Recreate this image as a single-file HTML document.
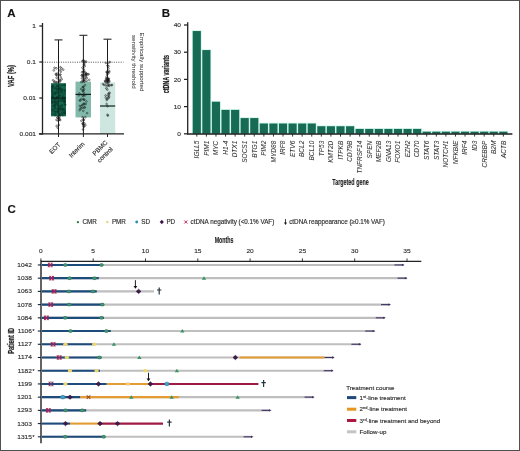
<!DOCTYPE html>
<html><head><meta charset="utf-8"><style>
html,body{margin:0;padding:0;background:#fff;}
body{width:520px;height:451px;overflow:hidden;position:relative;}
.frame{position:absolute;left:0;top:0;width:518px;height:449px;border:1px solid #505050;}
svg{display:block;font-family:"Liberation Sans", sans-serif;filter:blur(0.4px);}
text{stroke:#2e2e2e;stroke-width:0.15px;}
</style></head><body>
<svg width="520" height="451" viewBox="0 0 520 451">
<rect x="0" y="0" width="520" height="451" fill="#fff"/>
<text x="7.3" y="16.9" font-size="11.5" text-anchor="start" font-weight="bold" font-style="normal" fill="#111">A</text>
<text x="161.8" y="17.0" font-size="11.5" text-anchor="start" font-weight="bold" font-style="normal" fill="#111">B</text>
<text x="7.6" y="212.6" font-size="11.5" text-anchor="start" font-weight="bold" font-style="normal" fill="#111">C</text>
<line x1="58.5" y1="39.9" x2="58.5" y2="134" stroke="#1a1a1a" stroke-width="1.0"/>
<line x1="54.5" y1="39.9" x2="62.5" y2="39.9" stroke="#2a2a2a" stroke-width="1.1"/>
<line x1="83.4" y1="35.3" x2="83.4" y2="134" stroke="#1a1a1a" stroke-width="1.0"/>
<line x1="79.4" y1="35.3" x2="87.4" y2="35.3" stroke="#2a2a2a" stroke-width="1.1"/>
<line x1="107.5" y1="39.2" x2="107.5" y2="134" stroke="#1a1a1a" stroke-width="1.0"/>
<line x1="103.5" y1="39.2" x2="111.5" y2="39.2" stroke="#2a2a2a" stroke-width="1.1"/>
<rect x="51.0" y="83.2" width="15.0" height="33.099999999999994" fill="#17664d"/>
<rect x="75.5" y="81.6" width="15.5" height="35.80000000000001" fill="#82b9aa"/>
<rect x="100.0" y="82.4" width="15.200000000000003" height="51.599999999999994" fill="#cde6df"/>
<circle cx="52.4" cy="89.2" r="0.8" fill="none" stroke="#0a3a2b" stroke-width="0.6" stroke-opacity="0.85"/>
<circle cx="52.8" cy="86.7" r="0.8" fill="none" stroke="#0a3a2b" stroke-width="0.6" stroke-opacity="0.85"/>
<circle cx="52.6" cy="95.8" r="0.8" fill="none" stroke="#0a3a2b" stroke-width="0.6" stroke-opacity="0.85"/>
<circle cx="52.2" cy="100.2" r="0.8" fill="none" stroke="#0a3a2b" stroke-width="0.6" stroke-opacity="0.85"/>
<circle cx="52.1" cy="97.9" r="0.8" fill="none" stroke="#0a3a2b" stroke-width="0.6" stroke-opacity="0.85"/>
<circle cx="52.2" cy="87.3" r="0.8" fill="none" stroke="#0a3a2b" stroke-width="0.6" stroke-opacity="0.85"/>
<circle cx="52.5" cy="110.1" r="0.8" fill="none" stroke="#0a3a2b" stroke-width="0.6" stroke-opacity="0.85"/>
<circle cx="52.2" cy="91.4" r="0.8" fill="none" stroke="#0a3a2b" stroke-width="0.6" stroke-opacity="0.85"/>
<circle cx="52.7" cy="113.9" r="0.8" fill="none" stroke="#0a3a2b" stroke-width="0.6" stroke-opacity="0.85"/>
<circle cx="52.7" cy="96.8" r="0.8" fill="none" stroke="#0a3a2b" stroke-width="0.6" stroke-opacity="0.85"/>
<circle cx="53.1" cy="85.9" r="0.8" fill="none" stroke="#0a3a2b" stroke-width="0.6" stroke-opacity="0.85"/>
<circle cx="53.0" cy="93.5" r="0.8" fill="none" stroke="#0a3a2b" stroke-width="0.6" stroke-opacity="0.85"/>
<circle cx="52.2" cy="88.2" r="0.8" fill="none" stroke="#0a3a2b" stroke-width="0.6" stroke-opacity="0.85"/>
<circle cx="52.4" cy="109.8" r="0.8" fill="none" stroke="#0a3a2b" stroke-width="0.6" stroke-opacity="0.85"/>
<circle cx="52.3" cy="102.5" r="0.8" fill="none" stroke="#0a3a2b" stroke-width="0.6" stroke-opacity="0.85"/>
<circle cx="52.7" cy="96.0" r="0.8" fill="none" stroke="#0a3a2b" stroke-width="0.6" stroke-opacity="0.85"/>
<circle cx="52.6" cy="86.4" r="0.8" fill="none" stroke="#0a3a2b" stroke-width="0.6" stroke-opacity="0.85"/>
<circle cx="52.2" cy="90.9" r="0.8" fill="none" stroke="#0a3a2b" stroke-width="0.6" stroke-opacity="0.85"/>
<circle cx="52.8" cy="97.8" r="0.8" fill="none" stroke="#0a3a2b" stroke-width="0.6" stroke-opacity="0.85"/>
<circle cx="52.4" cy="102.7" r="0.8" fill="none" stroke="#0a3a2b" stroke-width="0.6" stroke-opacity="0.85"/>
<circle cx="52.6" cy="93.8" r="0.8" fill="none" stroke="#0a3a2b" stroke-width="0.6" stroke-opacity="0.85"/>
<circle cx="52.9" cy="106.2" r="0.8" fill="none" stroke="#0a3a2b" stroke-width="0.6" stroke-opacity="0.85"/>
<circle cx="54.7" cy="102.3" r="0.8" fill="none" stroke="#0a3a2b" stroke-width="0.6" stroke-opacity="0.85"/>
<circle cx="55.0" cy="111.6" r="0.8" fill="none" stroke="#0a3a2b" stroke-width="0.6" stroke-opacity="0.85"/>
<circle cx="55.2" cy="93.4" r="0.8" fill="none" stroke="#0a3a2b" stroke-width="0.6" stroke-opacity="0.85"/>
<circle cx="55.5" cy="88.2" r="0.8" fill="none" stroke="#0a3a2b" stroke-width="0.6" stroke-opacity="0.85"/>
<circle cx="54.9" cy="108.0" r="0.8" fill="none" stroke="#0a3a2b" stroke-width="0.6" stroke-opacity="0.85"/>
<circle cx="54.7" cy="99.7" r="0.8" fill="none" stroke="#0a3a2b" stroke-width="0.6" stroke-opacity="0.85"/>
<circle cx="54.5" cy="105.2" r="0.8" fill="none" stroke="#0a3a2b" stroke-width="0.6" stroke-opacity="0.85"/>
<circle cx="55.3" cy="102.3" r="0.8" fill="none" stroke="#0a3a2b" stroke-width="0.6" stroke-opacity="0.85"/>
<circle cx="55.4" cy="94.2" r="0.8" fill="none" stroke="#0a3a2b" stroke-width="0.6" stroke-opacity="0.85"/>
<circle cx="55.2" cy="102.9" r="0.8" fill="none" stroke="#0a3a2b" stroke-width="0.6" stroke-opacity="0.85"/>
<circle cx="55.1" cy="98.6" r="0.8" fill="none" stroke="#0a3a2b" stroke-width="0.6" stroke-opacity="0.85"/>
<circle cx="55.3" cy="113.8" r="0.8" fill="none" stroke="#0a3a2b" stroke-width="0.6" stroke-opacity="0.85"/>
<circle cx="55.0" cy="105.1" r="0.8" fill="none" stroke="#0a3a2b" stroke-width="0.6" stroke-opacity="0.85"/>
<circle cx="54.6" cy="106.2" r="0.8" fill="none" stroke="#0a3a2b" stroke-width="0.6" stroke-opacity="0.85"/>
<circle cx="55.1" cy="115.3" r="0.8" fill="none" stroke="#0a3a2b" stroke-width="0.6" stroke-opacity="0.85"/>
<circle cx="55.3" cy="93.3" r="0.8" fill="none" stroke="#0a3a2b" stroke-width="0.6" stroke-opacity="0.85"/>
<circle cx="54.9" cy="105.2" r="0.8" fill="none" stroke="#0a3a2b" stroke-width="0.6" stroke-opacity="0.85"/>
<circle cx="54.5" cy="98.8" r="0.8" fill="none" stroke="#0a3a2b" stroke-width="0.6" stroke-opacity="0.85"/>
<circle cx="54.7" cy="88.1" r="0.8" fill="none" stroke="#0a3a2b" stroke-width="0.6" stroke-opacity="0.85"/>
<circle cx="54.6" cy="108.3" r="0.8" fill="none" stroke="#0a3a2b" stroke-width="0.6" stroke-opacity="0.85"/>
<circle cx="54.6" cy="92.2" r="0.8" fill="none" stroke="#0a3a2b" stroke-width="0.6" stroke-opacity="0.85"/>
<circle cx="54.9" cy="111.5" r="0.8" fill="none" stroke="#0a3a2b" stroke-width="0.6" stroke-opacity="0.85"/>
<circle cx="57.0" cy="98.4" r="0.8" fill="none" stroke="#0a3a2b" stroke-width="0.6" stroke-opacity="0.85"/>
<circle cx="57.4" cy="111.9" r="0.8" fill="none" stroke="#0a3a2b" stroke-width="0.6" stroke-opacity="0.85"/>
<circle cx="57.7" cy="111.3" r="0.8" fill="none" stroke="#0a3a2b" stroke-width="0.6" stroke-opacity="0.85"/>
<circle cx="57.2" cy="97.4" r="0.8" fill="none" stroke="#0a3a2b" stroke-width="0.6" stroke-opacity="0.85"/>
<circle cx="57.3" cy="111.9" r="0.8" fill="none" stroke="#0a3a2b" stroke-width="0.6" stroke-opacity="0.85"/>
<circle cx="57.9" cy="89.2" r="0.8" fill="none" stroke="#0a3a2b" stroke-width="0.6" stroke-opacity="0.85"/>
<circle cx="57.1" cy="91.7" r="0.8" fill="none" stroke="#0a3a2b" stroke-width="0.6" stroke-opacity="0.85"/>
<circle cx="57.1" cy="99.5" r="0.8" fill="none" stroke="#0a3a2b" stroke-width="0.6" stroke-opacity="0.85"/>
<circle cx="57.5" cy="92.6" r="0.8" fill="none" stroke="#0a3a2b" stroke-width="0.6" stroke-opacity="0.85"/>
<circle cx="56.9" cy="97.5" r="0.8" fill="none" stroke="#0a3a2b" stroke-width="0.6" stroke-opacity="0.85"/>
<circle cx="57.3" cy="102.1" r="0.8" fill="none" stroke="#0a3a2b" stroke-width="0.6" stroke-opacity="0.85"/>
<circle cx="57.9" cy="105.9" r="0.8" fill="none" stroke="#0a3a2b" stroke-width="0.6" stroke-opacity="0.85"/>
<circle cx="57.4" cy="103.6" r="0.8" fill="none" stroke="#0a3a2b" stroke-width="0.6" stroke-opacity="0.85"/>
<circle cx="57.6" cy="86.2" r="0.8" fill="none" stroke="#0a3a2b" stroke-width="0.6" stroke-opacity="0.85"/>
<circle cx="57.8" cy="108.7" r="0.8" fill="none" stroke="#0a3a2b" stroke-width="0.6" stroke-opacity="0.85"/>
<circle cx="57.8" cy="109.2" r="0.8" fill="none" stroke="#0a3a2b" stroke-width="0.6" stroke-opacity="0.85"/>
<circle cx="57.3" cy="96.9" r="0.8" fill="none" stroke="#0a3a2b" stroke-width="0.6" stroke-opacity="0.85"/>
<circle cx="57.0" cy="104.2" r="0.8" fill="none" stroke="#0a3a2b" stroke-width="0.6" stroke-opacity="0.85"/>
<circle cx="57.0" cy="86.6" r="0.8" fill="none" stroke="#0a3a2b" stroke-width="0.6" stroke-opacity="0.85"/>
<circle cx="57.1" cy="89.5" r="0.8" fill="none" stroke="#0a3a2b" stroke-width="0.6" stroke-opacity="0.85"/>
<circle cx="57.2" cy="86.1" r="0.8" fill="none" stroke="#0a3a2b" stroke-width="0.6" stroke-opacity="0.85"/>
<circle cx="56.9" cy="89.2" r="0.8" fill="none" stroke="#0a3a2b" stroke-width="0.6" stroke-opacity="0.85"/>
<circle cx="59.4" cy="95.8" r="0.8" fill="none" stroke="#0a3a2b" stroke-width="0.6" stroke-opacity="0.85"/>
<circle cx="59.3" cy="111.6" r="0.8" fill="none" stroke="#0a3a2b" stroke-width="0.6" stroke-opacity="0.85"/>
<circle cx="59.9" cy="89.1" r="0.8" fill="none" stroke="#0a3a2b" stroke-width="0.6" stroke-opacity="0.85"/>
<circle cx="59.6" cy="95.3" r="0.8" fill="none" stroke="#0a3a2b" stroke-width="0.6" stroke-opacity="0.85"/>
<circle cx="59.7" cy="88.3" r="0.8" fill="none" stroke="#0a3a2b" stroke-width="0.6" stroke-opacity="0.85"/>
<circle cx="60.1" cy="115.3" r="0.8" fill="none" stroke="#0a3a2b" stroke-width="0.6" stroke-opacity="0.85"/>
<circle cx="59.8" cy="99.5" r="0.8" fill="none" stroke="#0a3a2b" stroke-width="0.6" stroke-opacity="0.85"/>
<circle cx="59.4" cy="87.7" r="0.8" fill="none" stroke="#0a3a2b" stroke-width="0.6" stroke-opacity="0.85"/>
<circle cx="59.6" cy="92.7" r="0.8" fill="none" stroke="#0a3a2b" stroke-width="0.6" stroke-opacity="0.85"/>
<circle cx="60.1" cy="89.5" r="0.8" fill="none" stroke="#0a3a2b" stroke-width="0.6" stroke-opacity="0.85"/>
<circle cx="59.3" cy="114.0" r="0.8" fill="none" stroke="#0a3a2b" stroke-width="0.6" stroke-opacity="0.85"/>
<circle cx="59.8" cy="89.0" r="0.8" fill="none" stroke="#0a3a2b" stroke-width="0.6" stroke-opacity="0.85"/>
<circle cx="59.8" cy="85.3" r="0.8" fill="none" stroke="#0a3a2b" stroke-width="0.6" stroke-opacity="0.85"/>
<circle cx="59.8" cy="114.8" r="0.8" fill="none" stroke="#0a3a2b" stroke-width="0.6" stroke-opacity="0.85"/>
<circle cx="60.2" cy="106.1" r="0.8" fill="none" stroke="#0a3a2b" stroke-width="0.6" stroke-opacity="0.85"/>
<circle cx="59.6" cy="95.9" r="0.8" fill="none" stroke="#0a3a2b" stroke-width="0.6" stroke-opacity="0.85"/>
<circle cx="59.5" cy="108.4" r="0.8" fill="none" stroke="#0a3a2b" stroke-width="0.6" stroke-opacity="0.85"/>
<circle cx="59.8" cy="108.7" r="0.8" fill="none" stroke="#0a3a2b" stroke-width="0.6" stroke-opacity="0.85"/>
<circle cx="59.6" cy="91.4" r="0.8" fill="none" stroke="#0a3a2b" stroke-width="0.6" stroke-opacity="0.85"/>
<circle cx="60.1" cy="115.0" r="0.8" fill="none" stroke="#0a3a2b" stroke-width="0.6" stroke-opacity="0.85"/>
<circle cx="60.2" cy="109.5" r="0.8" fill="none" stroke="#0a3a2b" stroke-width="0.6" stroke-opacity="0.85"/>
<circle cx="60.1" cy="107.4" r="0.8" fill="none" stroke="#0a3a2b" stroke-width="0.6" stroke-opacity="0.85"/>
<circle cx="61.9" cy="100.5" r="0.8" fill="none" stroke="#0a3a2b" stroke-width="0.6" stroke-opacity="0.85"/>
<circle cx="62.1" cy="85.4" r="0.8" fill="none" stroke="#0a3a2b" stroke-width="0.6" stroke-opacity="0.85"/>
<circle cx="61.7" cy="93.2" r="0.8" fill="none" stroke="#0a3a2b" stroke-width="0.6" stroke-opacity="0.85"/>
<circle cx="62.0" cy="106.0" r="0.8" fill="none" stroke="#0a3a2b" stroke-width="0.6" stroke-opacity="0.85"/>
<circle cx="62.7" cy="98.4" r="0.8" fill="none" stroke="#0a3a2b" stroke-width="0.6" stroke-opacity="0.85"/>
<circle cx="62.6" cy="115.1" r="0.8" fill="none" stroke="#0a3a2b" stroke-width="0.6" stroke-opacity="0.85"/>
<circle cx="62.7" cy="95.8" r="0.8" fill="none" stroke="#0a3a2b" stroke-width="0.6" stroke-opacity="0.85"/>
<circle cx="61.9" cy="91.5" r="0.8" fill="none" stroke="#0a3a2b" stroke-width="0.6" stroke-opacity="0.85"/>
<circle cx="61.9" cy="90.8" r="0.8" fill="none" stroke="#0a3a2b" stroke-width="0.6" stroke-opacity="0.85"/>
<circle cx="62.3" cy="112.4" r="0.8" fill="none" stroke="#0a3a2b" stroke-width="0.6" stroke-opacity="0.85"/>
<circle cx="62.5" cy="99.4" r="0.8" fill="none" stroke="#0a3a2b" stroke-width="0.6" stroke-opacity="0.85"/>
<circle cx="62.4" cy="109.3" r="0.8" fill="none" stroke="#0a3a2b" stroke-width="0.6" stroke-opacity="0.85"/>
<circle cx="61.8" cy="105.0" r="0.8" fill="none" stroke="#0a3a2b" stroke-width="0.6" stroke-opacity="0.85"/>
<circle cx="62.6" cy="108.8" r="0.8" fill="none" stroke="#0a3a2b" stroke-width="0.6" stroke-opacity="0.85"/>
<circle cx="62.5" cy="99.3" r="0.8" fill="none" stroke="#0a3a2b" stroke-width="0.6" stroke-opacity="0.85"/>
<circle cx="61.9" cy="109.0" r="0.8" fill="none" stroke="#0a3a2b" stroke-width="0.6" stroke-opacity="0.85"/>
<circle cx="62.0" cy="109.3" r="0.8" fill="none" stroke="#0a3a2b" stroke-width="0.6" stroke-opacity="0.85"/>
<circle cx="62.7" cy="96.8" r="0.8" fill="none" stroke="#0a3a2b" stroke-width="0.6" stroke-opacity="0.85"/>
<circle cx="62.1" cy="113.9" r="0.8" fill="none" stroke="#0a3a2b" stroke-width="0.6" stroke-opacity="0.85"/>
<circle cx="62.4" cy="89.8" r="0.8" fill="none" stroke="#0a3a2b" stroke-width="0.6" stroke-opacity="0.85"/>
<circle cx="61.8" cy="89.2" r="0.8" fill="none" stroke="#0a3a2b" stroke-width="0.6" stroke-opacity="0.85"/>
<circle cx="62.6" cy="109.5" r="0.8" fill="none" stroke="#0a3a2b" stroke-width="0.6" stroke-opacity="0.85"/>
<circle cx="64.2" cy="110.1" r="0.8" fill="none" stroke="#0a3a2b" stroke-width="0.6" stroke-opacity="0.85"/>
<circle cx="65.1" cy="104.9" r="0.8" fill="none" stroke="#0a3a2b" stroke-width="0.6" stroke-opacity="0.85"/>
<circle cx="64.5" cy="101.5" r="0.8" fill="none" stroke="#0a3a2b" stroke-width="0.6" stroke-opacity="0.85"/>
<circle cx="64.2" cy="84.9" r="0.8" fill="none" stroke="#0a3a2b" stroke-width="0.6" stroke-opacity="0.85"/>
<circle cx="65.1" cy="104.6" r="0.8" fill="none" stroke="#0a3a2b" stroke-width="0.6" stroke-opacity="0.85"/>
<circle cx="64.6" cy="113.4" r="0.8" fill="none" stroke="#0a3a2b" stroke-width="0.6" stroke-opacity="0.85"/>
<circle cx="64.5" cy="111.5" r="0.8" fill="none" stroke="#0a3a2b" stroke-width="0.6" stroke-opacity="0.85"/>
<circle cx="64.9" cy="91.0" r="0.8" fill="none" stroke="#0a3a2b" stroke-width="0.6" stroke-opacity="0.85"/>
<circle cx="64.4" cy="93.6" r="0.8" fill="none" stroke="#0a3a2b" stroke-width="0.6" stroke-opacity="0.85"/>
<circle cx="64.3" cy="102.7" r="0.8" fill="none" stroke="#0a3a2b" stroke-width="0.6" stroke-opacity="0.85"/>
<circle cx="64.4" cy="97.5" r="0.8" fill="none" stroke="#0a3a2b" stroke-width="0.6" stroke-opacity="0.85"/>
<circle cx="64.2" cy="112.7" r="0.8" fill="none" stroke="#0a3a2b" stroke-width="0.6" stroke-opacity="0.85"/>
<circle cx="64.5" cy="98.7" r="0.8" fill="none" stroke="#0a3a2b" stroke-width="0.6" stroke-opacity="0.85"/>
<circle cx="64.7" cy="112.5" r="0.8" fill="none" stroke="#0a3a2b" stroke-width="0.6" stroke-opacity="0.85"/>
<circle cx="64.5" cy="112.9" r="0.8" fill="none" stroke="#0a3a2b" stroke-width="0.6" stroke-opacity="0.85"/>
<circle cx="64.6" cy="101.0" r="0.8" fill="none" stroke="#0a3a2b" stroke-width="0.6" stroke-opacity="0.85"/>
<circle cx="64.6" cy="85.1" r="0.8" fill="none" stroke="#0a3a2b" stroke-width="0.6" stroke-opacity="0.85"/>
<circle cx="64.5" cy="90.2" r="0.8" fill="none" stroke="#0a3a2b" stroke-width="0.6" stroke-opacity="0.85"/>
<circle cx="64.1" cy="109.3" r="0.8" fill="none" stroke="#0a3a2b" stroke-width="0.6" stroke-opacity="0.85"/>
<circle cx="64.3" cy="99.2" r="0.8" fill="none" stroke="#0a3a2b" stroke-width="0.6" stroke-opacity="0.85"/>
<circle cx="64.8" cy="101.8" r="0.8" fill="none" stroke="#0a3a2b" stroke-width="0.6" stroke-opacity="0.85"/>
<circle cx="64.4" cy="100.6" r="0.8" fill="none" stroke="#0a3a2b" stroke-width="0.6" stroke-opacity="0.85"/>
<circle cx="54.5" cy="67.8" r="0.85" fill="none" stroke="#1a1a1a" stroke-width="0.6" stroke-opacity="0.9"/>
<circle cx="57.1" cy="75.5" r="0.85" fill="none" stroke="#1a1a1a" stroke-width="0.6" stroke-opacity="0.9"/>
<circle cx="58.5" cy="79.1" r="0.85" fill="none" stroke="#1a1a1a" stroke-width="0.6" stroke-opacity="0.9"/>
<circle cx="60.4" cy="74.6" r="0.85" fill="none" stroke="#1a1a1a" stroke-width="0.6" stroke-opacity="0.9"/>
<circle cx="54.7" cy="81.5" r="0.85" fill="none" stroke="#1a1a1a" stroke-width="0.6" stroke-opacity="0.9"/>
<circle cx="57.0" cy="73.5" r="0.85" fill="none" stroke="#1a1a1a" stroke-width="0.6" stroke-opacity="0.9"/>
<circle cx="56.3" cy="74.7" r="0.85" fill="none" stroke="#1a1a1a" stroke-width="0.6" stroke-opacity="0.9"/>
<circle cx="56.6" cy="77.8" r="0.85" fill="none" stroke="#1a1a1a" stroke-width="0.6" stroke-opacity="0.9"/>
<circle cx="55.7" cy="74.1" r="0.85" fill="none" stroke="#1a1a1a" stroke-width="0.6" stroke-opacity="0.9"/>
<circle cx="59.4" cy="82.0" r="0.85" fill="none" stroke="#1a1a1a" stroke-width="0.6" stroke-opacity="0.9"/>
<circle cx="57.0" cy="82.0" r="0.85" fill="none" stroke="#1a1a1a" stroke-width="0.6" stroke-opacity="0.9"/>
<circle cx="53.8" cy="70.4" r="0.85" fill="none" stroke="#1a1a1a" stroke-width="0.6" stroke-opacity="0.9"/>
<circle cx="53.1" cy="80.3" r="0.85" fill="none" stroke="#1a1a1a" stroke-width="0.6" stroke-opacity="0.9"/>
<circle cx="56.4" cy="68.3" r="0.85" fill="none" stroke="#1a1a1a" stroke-width="0.6" stroke-opacity="0.9"/>
<circle cx="60.4" cy="67.2" r="0.85" fill="none" stroke="#1a1a1a" stroke-width="0.6" stroke-opacity="0.9"/>
<circle cx="60.3" cy="70.1" r="0.85" fill="none" stroke="#1a1a1a" stroke-width="0.6" stroke-opacity="0.9"/>
<circle cx="61.7" cy="79.3" r="0.85" fill="none" stroke="#1a1a1a" stroke-width="0.6" stroke-opacity="0.9"/>
<circle cx="60.1" cy="81.2" r="0.85" fill="none" stroke="#1a1a1a" stroke-width="0.6" stroke-opacity="0.9"/>
<circle cx="60.7" cy="77.2" r="0.85" fill="none" stroke="#1a1a1a" stroke-width="0.6" stroke-opacity="0.9"/>
<circle cx="61.6" cy="68.4" r="0.85" fill="none" stroke="#1a1a1a" stroke-width="0.6" stroke-opacity="0.9"/>
<circle cx="63.2" cy="69.7" r="0.85" fill="none" stroke="#1a1a1a" stroke-width="0.6" stroke-opacity="0.9"/>
<circle cx="54.3" cy="82.2" r="0.85" fill="none" stroke="#1a1a1a" stroke-width="0.6" stroke-opacity="0.9"/>
<circle cx="56.3" cy="82.8" r="0.85" fill="none" stroke="#1a1a1a" stroke-width="0.6" stroke-opacity="0.9"/>
<circle cx="60.2" cy="80.2" r="0.85" fill="none" stroke="#1a1a1a" stroke-width="0.6" stroke-opacity="0.9"/>
<circle cx="59.8" cy="74.8" r="0.85" fill="none" stroke="#1a1a1a" stroke-width="0.6" stroke-opacity="0.9"/>
<circle cx="60.7" cy="71.8" r="0.85" fill="none" stroke="#1a1a1a" stroke-width="0.6" stroke-opacity="0.9"/>
<circle cx="58.8" cy="124.9" r="0.85" fill="none" stroke="#1a1a1a" stroke-width="0.6" stroke-opacity="0.9"/>
<circle cx="59.3" cy="117.2" r="0.85" fill="none" stroke="#1a1a1a" stroke-width="0.6" stroke-opacity="0.9"/>
<circle cx="57.5" cy="117.2" r="0.85" fill="none" stroke="#1a1a1a" stroke-width="0.6" stroke-opacity="0.9"/>
<circle cx="58.1" cy="120.6" r="0.85" fill="none" stroke="#1a1a1a" stroke-width="0.6" stroke-opacity="0.9"/>
<circle cx="57.6" cy="117.7" r="0.85" fill="none" stroke="#1a1a1a" stroke-width="0.6" stroke-opacity="0.9"/>
<circle cx="57.7" cy="127.8" r="0.85" fill="none" stroke="#1a1a1a" stroke-width="0.6" stroke-opacity="0.9"/>
<circle cx="59.1" cy="118.2" r="0.85" fill="none" stroke="#1a1a1a" stroke-width="0.6" stroke-opacity="0.9"/>
<circle cx="56.5" cy="119.9" r="0.85" fill="none" stroke="#1a1a1a" stroke-width="0.6" stroke-opacity="0.9"/>
<circle cx="60.2" cy="120.0" r="0.85" fill="none" stroke="#1a1a1a" stroke-width="0.6" stroke-opacity="0.9"/>
<circle cx="58.9" cy="118.4" r="0.85" fill="none" stroke="#1a1a1a" stroke-width="0.6" stroke-opacity="0.9"/>
<circle cx="56.6" cy="126.0" r="0.85" fill="none" stroke="#1a1a1a" stroke-width="0.6" stroke-opacity="0.9"/>
<circle cx="59.5" cy="119.8" r="0.85" fill="none" stroke="#1a1a1a" stroke-width="0.6" stroke-opacity="0.9"/>
<circle cx="85.4" cy="72.6" r="0.85" fill="none" stroke="#1a1a1a" stroke-width="0.6" stroke-opacity="0.9"/>
<circle cx="86.1" cy="75.4" r="0.85" fill="none" stroke="#1a1a1a" stroke-width="0.6" stroke-opacity="0.9"/>
<circle cx="83.8" cy="75.1" r="0.85" fill="none" stroke="#1a1a1a" stroke-width="0.6" stroke-opacity="0.9"/>
<circle cx="83.7" cy="69.4" r="0.85" fill="none" stroke="#1a1a1a" stroke-width="0.6" stroke-opacity="0.9"/>
<circle cx="86.6" cy="74.0" r="0.85" fill="none" stroke="#1a1a1a" stroke-width="0.6" stroke-opacity="0.9"/>
<circle cx="85.0" cy="77.6" r="0.85" fill="none" stroke="#1a1a1a" stroke-width="0.6" stroke-opacity="0.9"/>
<circle cx="86.0" cy="61.5" r="0.85" fill="none" stroke="#1a1a1a" stroke-width="0.6" stroke-opacity="0.9"/>
<circle cx="84.9" cy="79.0" r="0.85" fill="none" stroke="#1a1a1a" stroke-width="0.6" stroke-opacity="0.9"/>
<circle cx="82.1" cy="72.2" r="0.85" fill="none" stroke="#1a1a1a" stroke-width="0.6" stroke-opacity="0.9"/>
<circle cx="83.8" cy="80.4" r="0.85" fill="none" stroke="#1a1a1a" stroke-width="0.6" stroke-opacity="0.9"/>
<circle cx="83.3" cy="71.6" r="0.85" fill="none" stroke="#1a1a1a" stroke-width="0.6" stroke-opacity="0.9"/>
<circle cx="84.2" cy="65.2" r="0.85" fill="none" stroke="#1a1a1a" stroke-width="0.6" stroke-opacity="0.9"/>
<circle cx="84.1" cy="61.1" r="0.85" fill="none" stroke="#1a1a1a" stroke-width="0.6" stroke-opacity="0.9"/>
<circle cx="84.0" cy="64.4" r="0.85" fill="none" stroke="#1a1a1a" stroke-width="0.6" stroke-opacity="0.9"/>
<circle cx="82.9" cy="76.7" r="0.85" fill="none" stroke="#1a1a1a" stroke-width="0.6" stroke-opacity="0.9"/>
<circle cx="84.6" cy="66.4" r="0.85" fill="none" stroke="#1a1a1a" stroke-width="0.6" stroke-opacity="0.9"/>
<circle cx="82.5" cy="67.6" r="0.85" fill="none" stroke="#1a1a1a" stroke-width="0.6" stroke-opacity="0.9"/>
<circle cx="83.4" cy="60.4" r="0.85" fill="none" stroke="#1a1a1a" stroke-width="0.6" stroke-opacity="0.9"/>
<circle cx="83.4" cy="76.1" r="0.85" fill="none" stroke="#1a1a1a" stroke-width="0.6" stroke-opacity="0.9"/>
<circle cx="83.7" cy="72.1" r="0.85" fill="none" stroke="#1a1a1a" stroke-width="0.6" stroke-opacity="0.9"/>
<circle cx="84.0" cy="80.6" r="0.85" fill="none" stroke="#1a1a1a" stroke-width="0.6" stroke-opacity="0.9"/>
<circle cx="85.0" cy="62.3" r="0.85" fill="none" stroke="#1a1a1a" stroke-width="0.6" stroke-opacity="0.9"/>
<circle cx="84.1" cy="70.9" r="0.85" fill="none" stroke="#1a1a1a" stroke-width="0.6" stroke-opacity="0.9"/>
<circle cx="82.0" cy="78.4" r="0.85" fill="none" stroke="#1a1a1a" stroke-width="0.6" stroke-opacity="0.9"/>
<circle cx="82.0" cy="75.1" r="0.85" fill="none" stroke="#1a1a1a" stroke-width="0.6" stroke-opacity="0.9"/>
<circle cx="84.5" cy="81.6" r="0.85" fill="none" stroke="#1a1a1a" stroke-width="0.6" stroke-opacity="0.9"/>
<circle cx="81.8" cy="75.5" r="0.85" fill="none" stroke="#1a1a1a" stroke-width="0.6" stroke-opacity="0.9"/>
<circle cx="85.8" cy="74.0" r="0.85" fill="none" stroke="#1a1a1a" stroke-width="0.6" stroke-opacity="0.9"/>
<circle cx="82.3" cy="61.2" r="0.85" fill="none" stroke="#1a1a1a" stroke-width="0.6" stroke-opacity="0.9"/>
<circle cx="84.2" cy="62.9" r="0.85" fill="none" stroke="#1a1a1a" stroke-width="0.6" stroke-opacity="0.9"/>
<circle cx="88.6" cy="74.3" r="0.85" fill="none" stroke="#1a1a1a" stroke-width="0.6" stroke-opacity="0.9"/>
<circle cx="85.9" cy="73.5" r="0.85" fill="none" stroke="#1a1a1a" stroke-width="0.6" stroke-opacity="0.9"/>
<circle cx="89.2" cy="79.8" r="0.85" fill="none" stroke="#1a1a1a" stroke-width="0.6" stroke-opacity="0.9"/>
<circle cx="86.8" cy="78.0" r="0.85" fill="none" stroke="#1a1a1a" stroke-width="0.6" stroke-opacity="0.9"/>
<circle cx="82.9" cy="74.6" r="0.85" fill="none" stroke="#1a1a1a" stroke-width="0.6" stroke-opacity="0.9"/>
<circle cx="86.0" cy="76.1" r="0.85" fill="none" stroke="#1a1a1a" stroke-width="0.6" stroke-opacity="0.9"/>
<circle cx="85.5" cy="74.4" r="0.85" fill="none" stroke="#1a1a1a" stroke-width="0.6" stroke-opacity="0.9"/>
<circle cx="86.6" cy="80.7" r="0.85" fill="none" stroke="#1a1a1a" stroke-width="0.6" stroke-opacity="0.9"/>
<circle cx="87.7" cy="74.2" r="0.85" fill="none" stroke="#1a1a1a" stroke-width="0.6" stroke-opacity="0.9"/>
<circle cx="82.6" cy="80.7" r="0.85" fill="none" stroke="#1a1a1a" stroke-width="0.6" stroke-opacity="0.9"/>
<circle cx="82.7" cy="82.0" r="0.85" fill="none" stroke="#1a2a26" stroke-width="0.6" stroke-opacity="0.9"/>
<circle cx="85.1" cy="95.4" r="0.85" fill="none" stroke="#1a2a26" stroke-width="0.6" stroke-opacity="0.9"/>
<circle cx="81.1" cy="89.0" r="0.85" fill="none" stroke="#1a2a26" stroke-width="0.6" stroke-opacity="0.9"/>
<circle cx="83.8" cy="99.7" r="0.85" fill="none" stroke="#1a2a26" stroke-width="0.6" stroke-opacity="0.9"/>
<circle cx="85.0" cy="85.1" r="0.85" fill="none" stroke="#1a2a26" stroke-width="0.6" stroke-opacity="0.9"/>
<circle cx="83.4" cy="96.0" r="0.85" fill="none" stroke="#1a2a26" stroke-width="0.6" stroke-opacity="0.9"/>
<circle cx="83.8" cy="92.6" r="0.85" fill="none" stroke="#1a2a26" stroke-width="0.6" stroke-opacity="0.9"/>
<circle cx="83.5" cy="90.1" r="0.85" fill="none" stroke="#1a2a26" stroke-width="0.6" stroke-opacity="0.9"/>
<circle cx="81.3" cy="108.3" r="0.85" fill="none" stroke="#1a2a26" stroke-width="0.6" stroke-opacity="0.9"/>
<circle cx="82.1" cy="105.0" r="0.85" fill="none" stroke="#1a2a26" stroke-width="0.6" stroke-opacity="0.9"/>
<circle cx="82.5" cy="95.6" r="0.85" fill="none" stroke="#1a2a26" stroke-width="0.6" stroke-opacity="0.9"/>
<circle cx="79.4" cy="93.4" r="0.85" fill="none" stroke="#1a2a26" stroke-width="0.6" stroke-opacity="0.9"/>
<circle cx="84.5" cy="107.3" r="0.85" fill="none" stroke="#1a2a26" stroke-width="0.6" stroke-opacity="0.9"/>
<circle cx="83.3" cy="104.5" r="0.85" fill="none" stroke="#1a2a26" stroke-width="0.6" stroke-opacity="0.9"/>
<circle cx="87.1" cy="113.2" r="0.85" fill="none" stroke="#1a2a26" stroke-width="0.6" stroke-opacity="0.9"/>
<circle cx="84.4" cy="104.0" r="0.85" fill="none" stroke="#1a2a26" stroke-width="0.6" stroke-opacity="0.9"/>
<circle cx="83.0" cy="86.9" r="0.85" fill="none" stroke="#1a2a26" stroke-width="0.6" stroke-opacity="0.9"/>
<circle cx="79.8" cy="100.3" r="0.85" fill="none" stroke="#1a2a26" stroke-width="0.6" stroke-opacity="0.9"/>
<circle cx="79.6" cy="110.2" r="0.85" fill="none" stroke="#1a2a26" stroke-width="0.6" stroke-opacity="0.9"/>
<circle cx="83.3" cy="110.9" r="0.85" fill="none" stroke="#1a2a26" stroke-width="0.6" stroke-opacity="0.9"/>
<circle cx="79.7" cy="105.9" r="0.85" fill="none" stroke="#1a2a26" stroke-width="0.6" stroke-opacity="0.9"/>
<circle cx="81.3" cy="106.3" r="0.85" fill="none" stroke="#1a2a26" stroke-width="0.6" stroke-opacity="0.9"/>
<circle cx="83.5" cy="86.7" r="0.85" fill="none" stroke="#1a2a26" stroke-width="0.6" stroke-opacity="0.9"/>
<circle cx="83.9" cy="94.6" r="0.85" fill="none" stroke="#1a2a26" stroke-width="0.6" stroke-opacity="0.9"/>
<circle cx="86.4" cy="101.5" r="0.85" fill="none" stroke="#1a2a26" stroke-width="0.6" stroke-opacity="0.9"/>
<circle cx="85.7" cy="104.0" r="0.85" fill="none" stroke="#1a2a26" stroke-width="0.6" stroke-opacity="0.9"/>
<circle cx="81.3" cy="99.1" r="0.85" fill="none" stroke="#1a2a26" stroke-width="0.6" stroke-opacity="0.9"/>
<circle cx="81.2" cy="82.1" r="0.85" fill="none" stroke="#1a2a26" stroke-width="0.6" stroke-opacity="0.9"/>
<circle cx="84.4" cy="99.6" r="0.85" fill="none" stroke="#1a2a26" stroke-width="0.6" stroke-opacity="0.9"/>
<circle cx="80.2" cy="100.7" r="0.85" fill="none" stroke="#1a2a26" stroke-width="0.6" stroke-opacity="0.9"/>
<circle cx="83.0" cy="107.8" r="0.85" fill="none" stroke="#1a2a26" stroke-width="0.6" stroke-opacity="0.9"/>
<circle cx="82.8" cy="90.8" r="0.85" fill="none" stroke="#1a2a26" stroke-width="0.6" stroke-opacity="0.9"/>
<circle cx="84.8" cy="107.5" r="0.85" fill="none" stroke="#1a2a26" stroke-width="0.6" stroke-opacity="0.9"/>
<circle cx="84.1" cy="89.2" r="0.85" fill="none" stroke="#1a2a26" stroke-width="0.6" stroke-opacity="0.9"/>
<circle cx="83.1" cy="99.3" r="0.85" fill="none" stroke="#1a2a26" stroke-width="0.6" stroke-opacity="0.9"/>
<circle cx="78.9" cy="95.4" r="0.85" fill="none" stroke="#1a2a26" stroke-width="0.6" stroke-opacity="0.9"/>
<circle cx="80.4" cy="108.8" r="0.85" fill="none" stroke="#1a2a26" stroke-width="0.6" stroke-opacity="0.9"/>
<circle cx="83.8" cy="103.6" r="0.85" fill="none" stroke="#1a2a26" stroke-width="0.6" stroke-opacity="0.9"/>
<circle cx="82.9" cy="87.2" r="0.85" fill="none" stroke="#1a2a26" stroke-width="0.6" stroke-opacity="0.9"/>
<circle cx="82.8" cy="90.9" r="0.85" fill="none" stroke="#1a2a26" stroke-width="0.6" stroke-opacity="0.9"/>
<circle cx="83.4" cy="124.9" r="0.85" fill="none" stroke="#1a1a1a" stroke-width="0.6" stroke-opacity="0.9"/>
<circle cx="82.6" cy="117.2" r="0.85" fill="none" stroke="#1a1a1a" stroke-width="0.6" stroke-opacity="0.9"/>
<circle cx="84.1" cy="126.4" r="0.85" fill="none" stroke="#1a1a1a" stroke-width="0.6" stroke-opacity="0.9"/>
<circle cx="83.7" cy="126.7" r="0.85" fill="none" stroke="#1a1a1a" stroke-width="0.6" stroke-opacity="0.9"/>
<circle cx="83.1" cy="124.2" r="0.85" fill="none" stroke="#1a1a1a" stroke-width="0.6" stroke-opacity="0.9"/>
<circle cx="82.7" cy="123.5" r="0.85" fill="none" stroke="#1a1a1a" stroke-width="0.6" stroke-opacity="0.9"/>
<circle cx="83.0" cy="129.5" r="0.85" fill="none" stroke="#1a1a1a" stroke-width="0.6" stroke-opacity="0.9"/>
<circle cx="83.5" cy="119.8" r="0.85" fill="none" stroke="#1a1a1a" stroke-width="0.6" stroke-opacity="0.9"/>
<circle cx="85.4" cy="117.2" r="0.85" fill="none" stroke="#1a1a1a" stroke-width="0.6" stroke-opacity="0.9"/>
<circle cx="83.1" cy="123.4" r="0.85" fill="none" stroke="#1a1a1a" stroke-width="0.6" stroke-opacity="0.9"/>
<circle cx="84.4" cy="123.3" r="0.85" fill="none" stroke="#1a1a1a" stroke-width="0.6" stroke-opacity="0.9"/>
<circle cx="81.4" cy="120.8" r="0.85" fill="none" stroke="#1a1a1a" stroke-width="0.6" stroke-opacity="0.9"/>
<circle cx="83.9" cy="119.9" r="0.85" fill="none" stroke="#1a1a1a" stroke-width="0.6" stroke-opacity="0.9"/>
<circle cx="85.4" cy="125.1" r="0.85" fill="none" stroke="#1a1a1a" stroke-width="0.6" stroke-opacity="0.9"/>
<circle cx="108.3" cy="98.2" r="0.85" fill="none" stroke="#1a1a1a" stroke-width="0.6" stroke-opacity="0.9"/>
<circle cx="108.5" cy="66.2" r="0.85" fill="none" stroke="#1a1a1a" stroke-width="0.6" stroke-opacity="0.9"/>
<circle cx="108.1" cy="95.6" r="0.85" fill="none" stroke="#1a1a1a" stroke-width="0.6" stroke-opacity="0.9"/>
<circle cx="106.3" cy="88.4" r="0.85" fill="none" stroke="#1a1a1a" stroke-width="0.6" stroke-opacity="0.9"/>
<circle cx="107.8" cy="80.0" r="0.85" fill="none" stroke="#1a1a1a" stroke-width="0.6" stroke-opacity="0.9"/>
<circle cx="109.8" cy="62.0" r="0.85" fill="none" stroke="#1a1a1a" stroke-width="0.6" stroke-opacity="0.9"/>
<circle cx="108.8" cy="78.6" r="0.85" fill="none" stroke="#1a1a1a" stroke-width="0.6" stroke-opacity="0.9"/>
<circle cx="107.5" cy="72.8" r="0.85" fill="none" stroke="#1a1a1a" stroke-width="0.6" stroke-opacity="0.9"/>
<circle cx="108.1" cy="73.3" r="0.85" fill="none" stroke="#1a1a1a" stroke-width="0.6" stroke-opacity="0.9"/>
<circle cx="108.3" cy="93.8" r="0.85" fill="none" stroke="#1a1a1a" stroke-width="0.6" stroke-opacity="0.9"/>
<circle cx="109.3" cy="93.7" r="0.85" fill="none" stroke="#1a1a1a" stroke-width="0.6" stroke-opacity="0.9"/>
<circle cx="107.5" cy="65.7" r="0.85" fill="none" stroke="#1a1a1a" stroke-width="0.6" stroke-opacity="0.9"/>
<circle cx="109.1" cy="96.2" r="0.85" fill="none" stroke="#1a1a1a" stroke-width="0.6" stroke-opacity="0.9"/>
<circle cx="106.7" cy="72.3" r="0.85" fill="none" stroke="#1a1a1a" stroke-width="0.6" stroke-opacity="0.9"/>
<circle cx="106.7" cy="100.0" r="0.85" fill="none" stroke="#1a1a1a" stroke-width="0.6" stroke-opacity="0.9"/>
<circle cx="108.3" cy="84.0" r="0.85" fill="none" stroke="#1a1a1a" stroke-width="0.6" stroke-opacity="0.9"/>
<circle cx="106.8" cy="71.7" r="0.85" fill="none" stroke="#1a1a1a" stroke-width="0.6" stroke-opacity="0.9"/>
<circle cx="108.4" cy="62.9" r="0.85" fill="none" stroke="#1a1a1a" stroke-width="0.6" stroke-opacity="0.9"/>
<circle cx="109.2" cy="72.1" r="0.85" fill="none" stroke="#1a1a1a" stroke-width="0.6" stroke-opacity="0.9"/>
<circle cx="108.7" cy="97.5" r="0.85" fill="none" stroke="#1a1a1a" stroke-width="0.6" stroke-opacity="0.9"/>
<circle cx="107.5" cy="80.9" r="0.85" fill="none" stroke="#1a1a1a" stroke-width="0.6" stroke-opacity="0.9"/>
<circle cx="108.4" cy="68.4" r="0.85" fill="none" stroke="#1a1a1a" stroke-width="0.6" stroke-opacity="0.9"/>
<circle cx="105.6" cy="95.5" r="0.85" fill="none" stroke="#1a1a1a" stroke-width="0.6" stroke-opacity="0.9"/>
<circle cx="109.5" cy="92.7" r="0.85" fill="none" stroke="#1a1a1a" stroke-width="0.6" stroke-opacity="0.9"/>
<circle cx="105.8" cy="97.7" r="0.85" fill="none" stroke="#1a1a1a" stroke-width="0.6" stroke-opacity="0.9"/>
<circle cx="105.7" cy="82.4" r="0.85" fill="none" stroke="#1a1a1a" stroke-width="0.6" stroke-opacity="0.9"/>
<circle cx="107.4" cy="89.6" r="0.85" fill="none" stroke="#1a1a1a" stroke-width="0.6" stroke-opacity="0.9"/>
<circle cx="107.2" cy="78.6" r="0.85" fill="none" stroke="#1a1a1a" stroke-width="0.6" stroke-opacity="0.9"/>
<circle cx="107.5" cy="72.2" r="0.85" fill="none" stroke="#1a1a1a" stroke-width="0.6" stroke-opacity="0.9"/>
<circle cx="105.9" cy="62.9" r="0.85" fill="none" stroke="#1a1a1a" stroke-width="0.6" stroke-opacity="0.9"/>
<circle cx="108.0" cy="79.4" r="0.85" fill="none" stroke="#1a1a1a" stroke-width="0.6" stroke-opacity="0.9"/>
<circle cx="107.2" cy="74.4" r="0.85" fill="none" stroke="#1a1a1a" stroke-width="0.6" stroke-opacity="0.9"/>
<circle cx="107.0" cy="99.1" r="0.85" fill="none" stroke="#1a1a1a" stroke-width="0.6" stroke-opacity="0.9"/>
<circle cx="109.2" cy="71.1" r="0.85" fill="none" stroke="#1a1a1a" stroke-width="0.6" stroke-opacity="0.9"/>
<circle cx="107.0" cy="82.7" r="0.85" fill="none" stroke="#1a1a1a" stroke-width="0.6" stroke-opacity="0.9"/>
<circle cx="106.7" cy="76.4" r="0.85" fill="none" stroke="#1a1a1a" stroke-width="0.6" stroke-opacity="0.9"/>
<circle cx="108.2" cy="79.7" r="0.85" fill="none" stroke="#1a1a1a" stroke-width="0.6" stroke-opacity="0.9"/>
<circle cx="108.7" cy="85.2" r="0.85" fill="none" stroke="#1a1a1a" stroke-width="0.6" stroke-opacity="0.9"/>
<circle cx="105.8" cy="85.3" r="0.85" fill="none" stroke="#1a1a1a" stroke-width="0.6" stroke-opacity="0.9"/>
<circle cx="107.5" cy="86.0" r="0.85" fill="none" stroke="#1a1a1a" stroke-width="0.6" stroke-opacity="0.9"/>
<circle cx="106.2" cy="79.5" r="0.85" fill="none" stroke="#1a1a1a" stroke-width="0.6" stroke-opacity="0.9"/>
<circle cx="107.9" cy="78.7" r="0.85" fill="none" stroke="#1a1a1a" stroke-width="0.6" stroke-opacity="0.9"/>
<circle cx="106.9" cy="79.9" r="0.85" fill="none" stroke="#1a1a1a" stroke-width="0.6" stroke-opacity="0.9"/>
<circle cx="108.4" cy="80.1" r="0.85" fill="none" stroke="#1a1a1a" stroke-width="0.6" stroke-opacity="0.9"/>
<circle cx="103.0" cy="84.0" r="0.85" fill="none" stroke="#1a1a1a" stroke-width="0.6" stroke-opacity="0.9"/>
<circle cx="105.4" cy="81.3" r="0.85" fill="none" stroke="#1a1a1a" stroke-width="0.6" stroke-opacity="0.9"/>
<circle cx="105.0" cy="81.0" r="0.85" fill="none" stroke="#1a1a1a" stroke-width="0.6" stroke-opacity="0.9"/>
<circle cx="109.0" cy="80.7" r="0.85" fill="none" stroke="#1a1a1a" stroke-width="0.6" stroke-opacity="0.9"/>
<circle cx="109.3" cy="85.7" r="0.85" fill="none" stroke="#1a1a1a" stroke-width="0.6" stroke-opacity="0.9"/>
<circle cx="108.2" cy="79.0" r="0.85" fill="none" stroke="#1a1a1a" stroke-width="0.6" stroke-opacity="0.9"/>
<circle cx="104.1" cy="84.9" r="0.85" fill="none" stroke="#1a1a1a" stroke-width="0.6" stroke-opacity="0.9"/>
<circle cx="107.4" cy="79.7" r="0.85" fill="none" stroke="#1a1a1a" stroke-width="0.6" stroke-opacity="0.9"/>
<circle cx="107.3" cy="81.2" r="0.85" fill="none" stroke="#1a1a1a" stroke-width="0.6" stroke-opacity="0.9"/>
<circle cx="109.3" cy="81.6" r="0.85" fill="none" stroke="#1a1a1a" stroke-width="0.6" stroke-opacity="0.9"/>
<circle cx="112.0" cy="85.0" r="0.85" fill="none" stroke="#1a1a1a" stroke-width="0.6" stroke-opacity="0.9"/>
<circle cx="106.2" cy="78.2" r="0.85" fill="none" stroke="#1a1a1a" stroke-width="0.6" stroke-opacity="0.9"/>
<circle cx="111.2" cy="85.2" r="0.85" fill="none" stroke="#1a1a1a" stroke-width="0.6" stroke-opacity="0.9"/>
<circle cx="108.3" cy="81.8" r="0.85" fill="none" stroke="#1a1a1a" stroke-width="0.6" stroke-opacity="0.9"/>
<circle cx="107.5" cy="106.3" r="0.85" fill="none" stroke="#1a1a1a" stroke-width="0.6" stroke-opacity="0.9"/>
<circle cx="107.5" cy="114.8" r="0.85" fill="none" stroke="#1a1a1a" stroke-width="0.6" stroke-opacity="0.9"/>
<circle cx="107.9" cy="115.6" r="0.85" fill="none" stroke="#1a1a1a" stroke-width="0.6" stroke-opacity="0.9"/>
<circle cx="106.6" cy="104.0" r="0.85" fill="none" stroke="#1a1a1a" stroke-width="0.6" stroke-opacity="0.9"/>
<line x1="58.5" y1="83.5" x2="58.5" y2="116" stroke="#0a2a20" stroke-width="1.0" stroke-opacity="0.6"/>
<line x1="51" y1="101.4" x2="66" y2="101.4" stroke="#0a2a20" stroke-width="0.9" stroke-opacity="0.5"/>
<line x1="51.0" y1="98.0" x2="66.0" y2="98.0" stroke="#0f1f1a" stroke-width="1.2"/>
<line x1="75.5" y1="94.4" x2="91.0" y2="94.4" stroke="#0f1f1a" stroke-width="1.2"/>
<line x1="100.0" y1="106.0" x2="115.2" y2="106.0" stroke="#0f1f1a" stroke-width="1.2"/>
<line x1="42.5" y1="62.2" x2="123.5" y2="62.2" stroke="#333" stroke-width="0.85" stroke-dasharray="1 1.3"/>
<line x1="42.5" y1="23" x2="42.5" y2="134.5" stroke="#222" stroke-width="1.3"/>
<line x1="38.9" y1="133.9" x2="124" y2="133.9" stroke="#222" stroke-width="1.4"/>
<line x1="39.3" y1="26.0" x2="42.5" y2="26.0" stroke="#222" stroke-width="1.25"/>
<text x="0" y="0" font-size="6.6" text-anchor="end" fill="#2e2e2e" stroke="#2e2e2e" stroke-width="0.12" transform="translate(36.0,27.88) scale(1,0.84)">1</text>
<line x1="39.3" y1="62.0" x2="42.5" y2="62.0" stroke="#222" stroke-width="1.25"/>
<text x="0" y="0" font-size="6.6" text-anchor="end" fill="#2e2e2e" stroke="#2e2e2e" stroke-width="0.12" transform="translate(36.0,63.88) scale(1,0.84)">0.1</text>
<line x1="39.3" y1="98.0" x2="42.5" y2="98.0" stroke="#222" stroke-width="1.25"/>
<text x="0" y="0" font-size="6.6" text-anchor="end" fill="#2e2e2e" stroke="#2e2e2e" stroke-width="0.12" transform="translate(36.0,99.88) scale(1,0.84)">0.01</text>
<line x1="39.3" y1="134.0" x2="42.5" y2="134.0" stroke="#222" stroke-width="1.25"/>
<text x="0" y="0" font-size="6.6" text-anchor="end" fill="#2e2e2e" stroke="#2e2e2e" stroke-width="0.12" transform="translate(36.0,135.88) scale(1,0.84)">0.001</text>
<line x1="58.5" y1="134" x2="58.5" y2="137" stroke="#222" stroke-width="1"/>
<line x1="83.4" y1="134" x2="83.4" y2="137" stroke="#222" stroke-width="1"/>
<line x1="107.5" y1="134" x2="107.5" y2="137" stroke="#222" stroke-width="1"/>
<text x="0" y="0" font-size="6.3" text-anchor="end" fill="#2e2e2e" transform="translate(60.9,145) rotate(-45)">EOT</text>
<text x="0" y="0" font-size="6.3" text-anchor="end" fill="#2e2e2e" transform="translate(85.0,144.5) rotate(-45)">Interim</text>
<text x="0" y="0" font-size="6.3" text-anchor="end" fill="#2e2e2e" transform="translate(107.9,143.1) rotate(-45)">PBMC</text>
<text x="0" y="0" font-size="6.3" text-anchor="end" fill="#2e2e2e" transform="translate(113.2,149.7) rotate(-45)">control</text>
<text x="0" y="0" font-size="8.2" font-weight="bold" text-anchor="middle" fill="#1e1e1e" style="stroke:#1e1e1e;stroke-width:0.24px" transform="translate(14.24,76) rotate(-90) scale(0.707,1)">VAF (%)</text>
<text x="0" y="0" font-size="6.15" text-anchor="start" fill="#333" style="stroke-width:0.06px" transform="translate(139.6,32.6) rotate(90)">Empirically supported</text>
<text x="0" y="0" font-size="6.15" text-anchor="start" fill="#333" style="stroke-width:0.06px" transform="translate(131.8,35.0) rotate(90)">sensitivity threshold</text>
<rect x="192.75" y="31.04" width="8.1" height="102.75999999999999" fill="#c3f1e3" stroke="#c9f3e7" stroke-width="1.6"/>
<rect x="202.33" y="50.080000000000005" width="8.1" height="83.71999999999998" fill="#c3f1e3" stroke="#c9f3e7" stroke-width="1.6"/>
<rect x="211.91" y="101.76" width="8.1" height="32.03999999999998" fill="#c3f1e3" stroke="#c9f3e7" stroke-width="1.6"/>
<rect x="221.49" y="109.92" width="8.1" height="23.87999999999998" fill="#c3f1e3" stroke="#c9f3e7" stroke-width="1.6"/>
<rect x="231.07" y="109.92" width="8.1" height="23.87999999999998" fill="#c3f1e3" stroke="#c9f3e7" stroke-width="1.6"/>
<rect x="240.65" y="118.08000000000001" width="8.1" height="15.71999999999997" fill="#c3f1e3" stroke="#c9f3e7" stroke-width="1.6"/>
<rect x="250.23000000000002" y="118.08000000000001" width="8.1" height="15.71999999999997" fill="#c3f1e3" stroke="#c9f3e7" stroke-width="1.6"/>
<rect x="259.81" y="123.52000000000001" width="8.1" height="10.279999999999973" fill="#c3f1e3" stroke="#c9f3e7" stroke-width="1.6"/>
<rect x="269.39" y="123.52000000000001" width="8.1" height="10.279999999999973" fill="#c3f1e3" stroke="#c9f3e7" stroke-width="1.6"/>
<rect x="278.96999999999997" y="123.52000000000001" width="8.1" height="10.279999999999973" fill="#c3f1e3" stroke="#c9f3e7" stroke-width="1.6"/>
<rect x="288.55" y="123.52000000000001" width="8.1" height="10.279999999999973" fill="#c3f1e3" stroke="#c9f3e7" stroke-width="1.6"/>
<rect x="298.13" y="123.52000000000001" width="8.1" height="10.279999999999973" fill="#c3f1e3" stroke="#c9f3e7" stroke-width="1.6"/>
<rect x="307.71" y="123.52000000000001" width="8.1" height="10.279999999999973" fill="#c3f1e3" stroke="#c9f3e7" stroke-width="1.6"/>
<rect x="317.29" y="126.24000000000001" width="8.1" height="7.559999999999974" fill="#c3f1e3" stroke="#c9f3e7" stroke-width="1.6"/>
<rect x="326.87" y="126.24000000000001" width="8.1" height="7.559999999999974" fill="#c3f1e3" stroke="#c9f3e7" stroke-width="1.6"/>
<rect x="336.45" y="126.24000000000001" width="8.1" height="7.559999999999974" fill="#c3f1e3" stroke="#c9f3e7" stroke-width="1.6"/>
<rect x="346.03000000000003" y="126.24000000000001" width="8.1" height="7.559999999999974" fill="#c3f1e3" stroke="#c9f3e7" stroke-width="1.6"/>
<rect x="355.61" y="128.96" width="8.1" height="4.839999999999975" fill="#c3f1e3" stroke="#c9f3e7" stroke-width="1.6"/>
<rect x="365.19" y="128.96" width="8.1" height="4.839999999999975" fill="#c3f1e3" stroke="#c9f3e7" stroke-width="1.6"/>
<rect x="374.77000000000004" y="128.96" width="8.1" height="4.839999999999975" fill="#c3f1e3" stroke="#c9f3e7" stroke-width="1.6"/>
<rect x="384.34999999999997" y="128.96" width="8.1" height="4.839999999999975" fill="#c3f1e3" stroke="#c9f3e7" stroke-width="1.6"/>
<rect x="393.93" y="128.96" width="8.1" height="4.839999999999975" fill="#c3f1e3" stroke="#c9f3e7" stroke-width="1.6"/>
<rect x="403.51" y="128.96" width="8.1" height="4.839999999999975" fill="#c3f1e3" stroke="#c9f3e7" stroke-width="1.6"/>
<rect x="413.09" y="128.96" width="8.1" height="4.839999999999975" fill="#c3f1e3" stroke="#c9f3e7" stroke-width="1.6"/>
<rect x="422.67" y="131.68" width="8.1" height="2.119999999999976" fill="#c3f1e3" stroke="#c9f3e7" stroke-width="1.6"/>
<rect x="432.25" y="131.68" width="8.1" height="2.119999999999976" fill="#c3f1e3" stroke="#c9f3e7" stroke-width="1.6"/>
<rect x="441.83" y="131.68" width="8.1" height="2.119999999999976" fill="#c3f1e3" stroke="#c9f3e7" stroke-width="1.6"/>
<rect x="451.41" y="131.68" width="8.1" height="2.119999999999976" fill="#c3f1e3" stroke="#c9f3e7" stroke-width="1.6"/>
<rect x="460.99" y="131.68" width="8.1" height="2.119999999999976" fill="#c3f1e3" stroke="#c9f3e7" stroke-width="1.6"/>
<rect x="470.57" y="131.68" width="8.1" height="2.119999999999976" fill="#c3f1e3" stroke="#c9f3e7" stroke-width="1.6"/>
<rect x="480.15" y="131.68" width="8.1" height="2.119999999999976" fill="#c3f1e3" stroke="#c9f3e7" stroke-width="1.6"/>
<rect x="489.73" y="131.68" width="8.1" height="2.119999999999976" fill="#c3f1e3" stroke="#c9f3e7" stroke-width="1.6"/>
<rect x="499.31" y="131.68" width="8.1" height="2.119999999999976" fill="#c3f1e3" stroke="#c9f3e7" stroke-width="1.6"/>
<rect x="192.75" y="31.04" width="8.1" height="102.75999999999999" fill="#176a53"/>
<rect x="202.33" y="50.080000000000005" width="8.1" height="83.71999999999998" fill="#176a53"/>
<rect x="211.91" y="101.76" width="8.1" height="32.03999999999998" fill="#176a53"/>
<rect x="221.49" y="109.92" width="8.1" height="23.87999999999998" fill="#176a53"/>
<rect x="231.07" y="109.92" width="8.1" height="23.87999999999998" fill="#176a53"/>
<rect x="240.65" y="118.08000000000001" width="8.1" height="15.71999999999997" fill="#176a53"/>
<rect x="250.23000000000002" y="118.08000000000001" width="8.1" height="15.71999999999997" fill="#176a53"/>
<rect x="259.81" y="123.52000000000001" width="8.1" height="10.279999999999973" fill="#176a53"/>
<rect x="269.39" y="123.52000000000001" width="8.1" height="10.279999999999973" fill="#176a53"/>
<rect x="278.96999999999997" y="123.52000000000001" width="8.1" height="10.279999999999973" fill="#176a53"/>
<rect x="288.55" y="123.52000000000001" width="8.1" height="10.279999999999973" fill="#176a53"/>
<rect x="298.13" y="123.52000000000001" width="8.1" height="10.279999999999973" fill="#176a53"/>
<rect x="307.71" y="123.52000000000001" width="8.1" height="10.279999999999973" fill="#176a53"/>
<rect x="317.29" y="126.24000000000001" width="8.1" height="7.559999999999974" fill="#176a53"/>
<rect x="326.87" y="126.24000000000001" width="8.1" height="7.559999999999974" fill="#176a53"/>
<rect x="336.45" y="126.24000000000001" width="8.1" height="7.559999999999974" fill="#176a53"/>
<rect x="346.03000000000003" y="126.24000000000001" width="8.1" height="7.559999999999974" fill="#176a53"/>
<rect x="355.61" y="128.96" width="8.1" height="4.839999999999975" fill="#176a53"/>
<rect x="365.19" y="128.96" width="8.1" height="4.839999999999975" fill="#176a53"/>
<rect x="374.77000000000004" y="128.96" width="8.1" height="4.839999999999975" fill="#176a53"/>
<rect x="384.34999999999997" y="128.96" width="8.1" height="4.839999999999975" fill="#176a53"/>
<rect x="393.93" y="128.96" width="8.1" height="4.839999999999975" fill="#176a53"/>
<rect x="403.51" y="128.96" width="8.1" height="4.839999999999975" fill="#176a53"/>
<rect x="413.09" y="128.96" width="8.1" height="4.839999999999975" fill="#176a53"/>
<rect x="422.67" y="131.68" width="8.1" height="2.119999999999976" fill="#176a53"/>
<rect x="432.25" y="131.68" width="8.1" height="2.119999999999976" fill="#176a53"/>
<rect x="441.83" y="131.68" width="8.1" height="2.119999999999976" fill="#176a53"/>
<rect x="451.41" y="131.68" width="8.1" height="2.119999999999976" fill="#176a53"/>
<rect x="460.99" y="131.68" width="8.1" height="2.119999999999976" fill="#176a53"/>
<rect x="470.57" y="131.68" width="8.1" height="2.119999999999976" fill="#176a53"/>
<rect x="480.15" y="131.68" width="8.1" height="2.119999999999976" fill="#176a53"/>
<rect x="489.73" y="131.68" width="8.1" height="2.119999999999976" fill="#176a53"/>
<rect x="499.31" y="131.68" width="8.1" height="2.119999999999976" fill="#176a53"/>
<line x1="196.8" y1="134" x2="196.8" y2="136.6" stroke="#222" stroke-width="0.9"/>
<text x="0" y="0" font-size="6.5" font-style="italic" text-anchor="end" fill="#363636" style="stroke-width:0.06px" transform="translate(199.10,140.7) rotate(-90)">IGLL5</text>
<line x1="206.38000000000002" y1="134" x2="206.38000000000002" y2="136.6" stroke="#222" stroke-width="0.9"/>
<text x="0" y="0" font-size="6.5" font-style="italic" text-anchor="end" fill="#363636" style="stroke-width:0.06px" transform="translate(208.68,140.7) rotate(-90)">PIM1</text>
<line x1="215.96" y1="134" x2="215.96" y2="136.6" stroke="#222" stroke-width="0.9"/>
<text x="0" y="0" font-size="6.5" font-style="italic" text-anchor="end" fill="#363636" style="stroke-width:0.06px" transform="translate(218.26,140.7) rotate(-90)">MYC</text>
<line x1="225.54000000000002" y1="134" x2="225.54000000000002" y2="136.6" stroke="#222" stroke-width="0.9"/>
<text x="0" y="0" font-size="6.5" font-style="italic" text-anchor="end" fill="#363636" style="stroke-width:0.06px" transform="translate(227.84,140.7) rotate(-90)">H1-4</text>
<line x1="235.12" y1="134" x2="235.12" y2="136.6" stroke="#222" stroke-width="0.9"/>
<text x="0" y="0" font-size="6.5" font-style="italic" text-anchor="end" fill="#363636" style="stroke-width:0.06px" transform="translate(237.42,140.7) rotate(-90)">DTX1</text>
<line x1="244.70000000000002" y1="134" x2="244.70000000000002" y2="136.6" stroke="#222" stroke-width="0.9"/>
<text x="0" y="0" font-size="6.5" font-style="italic" text-anchor="end" fill="#363636" style="stroke-width:0.06px" transform="translate(247.00,140.7) rotate(-90)">SOCS1</text>
<line x1="254.28000000000003" y1="134" x2="254.28000000000003" y2="136.6" stroke="#222" stroke-width="0.9"/>
<text x="0" y="0" font-size="6.5" font-style="italic" text-anchor="end" fill="#363636" style="stroke-width:0.06px" transform="translate(256.58,140.7) rotate(-90)">BTG1</text>
<line x1="263.86" y1="134" x2="263.86" y2="136.6" stroke="#222" stroke-width="0.9"/>
<text x="0" y="0" font-size="6.5" font-style="italic" text-anchor="end" fill="#363636" style="stroke-width:0.06px" transform="translate(266.16,140.7) rotate(-90)">PIM2</text>
<line x1="273.44" y1="134" x2="273.44" y2="136.6" stroke="#222" stroke-width="0.9"/>
<text x="0" y="0" font-size="6.5" font-style="italic" text-anchor="end" fill="#363636" style="stroke-width:0.06px" transform="translate(275.74,140.7) rotate(-90)">MYD88</text>
<line x1="283.02" y1="134" x2="283.02" y2="136.6" stroke="#222" stroke-width="0.9"/>
<text x="0" y="0" font-size="6.5" font-style="italic" text-anchor="end" fill="#363636" style="stroke-width:0.06px" transform="translate(285.32,140.7) rotate(-90)">IRF8</text>
<line x1="292.6" y1="134" x2="292.6" y2="136.6" stroke="#222" stroke-width="0.9"/>
<text x="0" y="0" font-size="6.5" font-style="italic" text-anchor="end" fill="#363636" style="stroke-width:0.06px" transform="translate(294.90,140.7) rotate(-90)">ETV6</text>
<line x1="302.18" y1="134" x2="302.18" y2="136.6" stroke="#222" stroke-width="0.9"/>
<text x="0" y="0" font-size="6.5" font-style="italic" text-anchor="end" fill="#363636" style="stroke-width:0.06px" transform="translate(304.48,140.7) rotate(-90)">BCL2</text>
<line x1="311.76" y1="134" x2="311.76" y2="136.6" stroke="#222" stroke-width="0.9"/>
<text x="0" y="0" font-size="6.5" font-style="italic" text-anchor="end" fill="#363636" style="stroke-width:0.06px" transform="translate(314.06,140.7) rotate(-90)">BCL10</text>
<line x1="321.34000000000003" y1="134" x2="321.34000000000003" y2="136.6" stroke="#222" stroke-width="0.9"/>
<text x="0" y="0" font-size="6.5" font-style="italic" text-anchor="end" fill="#363636" style="stroke-width:0.06px" transform="translate(323.64,140.7) rotate(-90)">TP53</text>
<line x1="330.92" y1="134" x2="330.92" y2="136.6" stroke="#222" stroke-width="0.9"/>
<text x="0" y="0" font-size="6.5" font-style="italic" text-anchor="end" fill="#363636" style="stroke-width:0.06px" transform="translate(333.22,140.7) rotate(-90)">KMT2D</text>
<line x1="340.5" y1="134" x2="340.5" y2="136.6" stroke="#222" stroke-width="0.9"/>
<text x="0" y="0" font-size="6.5" font-style="italic" text-anchor="end" fill="#363636" style="stroke-width:0.06px" transform="translate(342.80,140.7) rotate(-90)">ITPKB</text>
<line x1="350.08000000000004" y1="134" x2="350.08000000000004" y2="136.6" stroke="#222" stroke-width="0.9"/>
<text x="0" y="0" font-size="6.5" font-style="italic" text-anchor="end" fill="#363636" style="stroke-width:0.06px" transform="translate(352.38,140.7) rotate(-90)">CD79B</text>
<line x1="359.66" y1="134" x2="359.66" y2="136.6" stroke="#222" stroke-width="0.9"/>
<text x="0" y="0" font-size="6.5" font-style="italic" text-anchor="end" fill="#363636" style="stroke-width:0.06px" transform="translate(361.96,140.7) rotate(-90)">TNFRSF14</text>
<line x1="369.24" y1="134" x2="369.24" y2="136.6" stroke="#222" stroke-width="0.9"/>
<text x="0" y="0" font-size="6.5" font-style="italic" text-anchor="end" fill="#363636" style="stroke-width:0.06px" transform="translate(371.54,140.7) rotate(-90)">SPEN</text>
<line x1="378.82000000000005" y1="134" x2="378.82000000000005" y2="136.6" stroke="#222" stroke-width="0.9"/>
<text x="0" y="0" font-size="6.5" font-style="italic" text-anchor="end" fill="#363636" style="stroke-width:0.06px" transform="translate(381.12,140.7) rotate(-90)">MEF2B</text>
<line x1="388.4" y1="134" x2="388.4" y2="136.6" stroke="#222" stroke-width="0.9"/>
<text x="0" y="0" font-size="6.5" font-style="italic" text-anchor="end" fill="#363636" style="stroke-width:0.06px" transform="translate(390.70,140.7) rotate(-90)">GNA13</text>
<line x1="397.98" y1="134" x2="397.98" y2="136.6" stroke="#222" stroke-width="0.9"/>
<text x="0" y="0" font-size="6.5" font-style="italic" text-anchor="end" fill="#363636" style="stroke-width:0.06px" transform="translate(400.28,140.7) rotate(-90)">FOXO1</text>
<line x1="407.56" y1="134" x2="407.56" y2="136.6" stroke="#222" stroke-width="0.9"/>
<text x="0" y="0" font-size="6.5" font-style="italic" text-anchor="end" fill="#363636" style="stroke-width:0.06px" transform="translate(409.86,140.7) rotate(-90)">EZH2</text>
<line x1="417.14" y1="134" x2="417.14" y2="136.6" stroke="#222" stroke-width="0.9"/>
<text x="0" y="0" font-size="6.5" font-style="italic" text-anchor="end" fill="#363636" style="stroke-width:0.06px" transform="translate(419.44,140.7) rotate(-90)">CD70</text>
<line x1="426.72" y1="134" x2="426.72" y2="136.6" stroke="#222" stroke-width="0.9"/>
<text x="0" y="0" font-size="6.5" font-style="italic" text-anchor="end" fill="#363636" style="stroke-width:0.06px" transform="translate(429.02,140.7) rotate(-90)">STAT6</text>
<line x1="436.3" y1="134" x2="436.3" y2="136.6" stroke="#222" stroke-width="0.9"/>
<text x="0" y="0" font-size="6.5" font-style="italic" text-anchor="end" fill="#363636" style="stroke-width:0.06px" transform="translate(438.60,140.7) rotate(-90)">STAT3</text>
<line x1="445.88" y1="134" x2="445.88" y2="136.6" stroke="#222" stroke-width="0.9"/>
<text x="0" y="0" font-size="6.5" font-style="italic" text-anchor="end" fill="#363636" style="stroke-width:0.06px" transform="translate(448.18,140.7) rotate(-90)">NOTCH1</text>
<line x1="455.46000000000004" y1="134" x2="455.46000000000004" y2="136.6" stroke="#222" stroke-width="0.9"/>
<text x="0" y="0" font-size="6.5" font-style="italic" text-anchor="end" fill="#363636" style="stroke-width:0.06px" transform="translate(457.76,140.7) rotate(-90)">NFKBIE</text>
<line x1="465.04" y1="134" x2="465.04" y2="136.6" stroke="#222" stroke-width="0.9"/>
<text x="0" y="0" font-size="6.5" font-style="italic" text-anchor="end" fill="#363636" style="stroke-width:0.06px" transform="translate(467.34,140.7) rotate(-90)">IRF4</text>
<line x1="474.62" y1="134" x2="474.62" y2="136.6" stroke="#222" stroke-width="0.9"/>
<text x="0" y="0" font-size="6.5" font-style="italic" text-anchor="end" fill="#363636" style="stroke-width:0.06px" transform="translate(476.92,140.7) rotate(-90)">ID3</text>
<line x1="484.2" y1="134" x2="484.2" y2="136.6" stroke="#222" stroke-width="0.9"/>
<text x="0" y="0" font-size="6.5" font-style="italic" text-anchor="end" fill="#363636" style="stroke-width:0.06px" transform="translate(486.50,140.7) rotate(-90)">CREBBP</text>
<line x1="493.78000000000003" y1="134" x2="493.78000000000003" y2="136.6" stroke="#222" stroke-width="0.9"/>
<text x="0" y="0" font-size="6.5" font-style="italic" text-anchor="end" fill="#363636" style="stroke-width:0.06px" transform="translate(496.08,140.7) rotate(-90)">B2M</text>
<line x1="503.36" y1="134" x2="503.36" y2="136.6" stroke="#222" stroke-width="0.9"/>
<text x="0" y="0" font-size="6.5" font-style="italic" text-anchor="end" fill="#363636" style="stroke-width:0.06px" transform="translate(505.66,140.7) rotate(-90)">ACTB</text>
<line x1="187.7" y1="22.3" x2="187.7" y2="134.5" stroke="#222" stroke-width="1.3"/>
<line x1="187.2" y1="134.0" x2="512.4" y2="134.0" stroke="#222" stroke-width="1.4"/>
<line x1="184" y1="133.8" x2="187.7" y2="133.8" stroke="#222" stroke-width="1.25"/>
<text x="0" y="0" font-size="6.6" text-anchor="end" fill="#2e2e2e" stroke="#2e2e2e" stroke-width="0.12" transform="translate(181,136.08) scale(1,0.84)">0</text>
<line x1="184" y1="106.60000000000001" x2="187.7" y2="106.60000000000001" stroke="#222" stroke-width="1.25"/>
<text x="0" y="0" font-size="6.6" text-anchor="end" fill="#2e2e2e" stroke="#2e2e2e" stroke-width="0.12" transform="translate(181,108.88) scale(1,0.84)">10</text>
<line x1="184" y1="79.4" x2="187.7" y2="79.4" stroke="#222" stroke-width="1.25"/>
<text x="0" y="0" font-size="6.6" text-anchor="end" fill="#2e2e2e" stroke="#2e2e2e" stroke-width="0.12" transform="translate(181,81.68) scale(1,0.84)">20</text>
<line x1="184" y1="52.2" x2="187.7" y2="52.2" stroke="#222" stroke-width="1.25"/>
<text x="0" y="0" font-size="6.6" text-anchor="end" fill="#2e2e2e" stroke="#2e2e2e" stroke-width="0.12" transform="translate(181,54.48) scale(1,0.84)">30</text>
<line x1="184" y1="25.0" x2="187.7" y2="25.0" stroke="#222" stroke-width="1.25"/>
<text x="0" y="0" font-size="6.6" text-anchor="end" fill="#2e2e2e" stroke="#2e2e2e" stroke-width="0.12" transform="translate(181,27.28) scale(1,0.84)">40</text>
<text x="0" y="0" font-size="8.2" font-weight="bold" text-anchor="middle" fill="#1e1e1e" style="stroke:#1e1e1e;stroke-width:0.24px" transform="translate(168.54,74.1) rotate(-90) scale(0.657,1)">ctDNA variants</text>
<text x="0" y="0" font-size="8.2" font-weight="bold" text-anchor="middle" fill="#1e1e1e" style="stroke:#1e1e1e;stroke-width:0.12px" transform="translate(350.5,184.5) scale(0.658,1)">Targeted gene</text>
<circle cx="77.9" cy="222.2" r="1.15" fill="#2f7a48"/>
<text x="82.5" y="224.2" font-size="6.3" text-anchor="start" font-weight="normal" font-style="normal" fill="#2e2e2e">CMR</text>
<circle cx="107.3" cy="222.1" r="1.25" fill="#e6d488"/>
<text x="111.9" y="224.2" font-size="6.3" text-anchor="start" font-weight="normal" font-style="normal" fill="#2e2e2e">PMR</text>
<circle cx="136.7" cy="222" r="1.45" fill="#2f8ab6"/>
<text x="141.2" y="224.2" font-size="6.3" text-anchor="start" font-weight="normal" font-style="normal" fill="#2e2e2e">SD</text>
<path d="M161.8 219.8 L163.9 222 L161.8 224.2 L159.7 222 Z" fill="#3e1a4c"/>
<text x="166.4" y="224.2" font-size="6.3" text-anchor="start" font-weight="normal" font-style="normal" fill="#2e2e2e">PD</text>
<path d="M184.3 220.5 L187.3 223.5 M187.3 220.5 L184.3 223.5" stroke="#c42460" stroke-width="1"/>
<text x="190.6" y="224.2" font-size="6.3" text-anchor="start" font-weight="normal" font-style="normal" fill="#2e2e2e">ctDNA negativity (&lt;0.1% VAF)</text>
<path d="M285.5 219 L285.5 223.5" stroke="#111" stroke-width="0.8"/><path d="M284 222.5 L287 222.5 L285.5 225 Z" fill="#111"/>
<text x="289.2" y="224.2" font-size="6.3" text-anchor="start" font-weight="normal" font-style="normal" fill="#2e2e2e">ctDNA reappearance (≥0.1% VAF)</text>
<text x="0" y="0" font-size="8.2" font-weight="bold" text-anchor="middle" fill="#1e1e1e" style="stroke:#1e1e1e;stroke-width:0.12px" transform="translate(224.05,242.6) scale(0.648,1)">Months</text>
<text x="0" y="0" font-size="6.6" text-anchor="middle" fill="#2e2e2e" stroke="#2e2e2e" stroke-width="0.12" transform="translate(40.9,252.78) scale(1,0.84)">0</text>
<line x1="40.9" y1="258.4" x2="40.9" y2="261" stroke="#222" stroke-width="0.9"/>
<text x="0" y="0" font-size="6.6" text-anchor="middle" fill="#2e2e2e" stroke="#2e2e2e" stroke-width="0.12" transform="translate(93.2,252.78) scale(1,0.84)">5</text>
<line x1="93.2" y1="258.4" x2="93.2" y2="261" stroke="#222" stroke-width="0.9"/>
<text x="0" y="0" font-size="6.6" text-anchor="middle" fill="#2e2e2e" stroke="#2e2e2e" stroke-width="0.12" transform="translate(145.5,252.78) scale(1,0.84)">10</text>
<line x1="145.5" y1="258.4" x2="145.5" y2="261" stroke="#222" stroke-width="0.9"/>
<text x="0" y="0" font-size="6.6" text-anchor="middle" fill="#2e2e2e" stroke="#2e2e2e" stroke-width="0.12" transform="translate(197.8,252.78) scale(1,0.84)">15</text>
<line x1="197.8" y1="258.4" x2="197.8" y2="261" stroke="#222" stroke-width="0.9"/>
<text x="0" y="0" font-size="6.6" text-anchor="middle" fill="#2e2e2e" stroke="#2e2e2e" stroke-width="0.12" transform="translate(250.10000000000002,252.78) scale(1,0.84)">20</text>
<line x1="250.10000000000002" y1="258.4" x2="250.10000000000002" y2="261" stroke="#222" stroke-width="0.9"/>
<text x="0" y="0" font-size="6.6" text-anchor="middle" fill="#2e2e2e" stroke="#2e2e2e" stroke-width="0.12" transform="translate(302.4,252.78) scale(1,0.84)">25</text>
<line x1="302.4" y1="258.4" x2="302.4" y2="261" stroke="#222" stroke-width="0.9"/>
<text x="0" y="0" font-size="6.6" text-anchor="middle" fill="#2e2e2e" stroke="#2e2e2e" stroke-width="0.12" transform="translate(354.7,252.78) scale(1,0.84)">30</text>
<line x1="354.7" y1="258.4" x2="354.7" y2="261" stroke="#222" stroke-width="0.9"/>
<text x="0" y="0" font-size="6.6" text-anchor="middle" fill="#2e2e2e" stroke="#2e2e2e" stroke-width="0.12" transform="translate(407.0,252.78) scale(1,0.84)">35</text>
<line x1="407.0" y1="258.4" x2="407.0" y2="261" stroke="#222" stroke-width="0.9"/>
<line x1="41.0" y1="261.4" x2="421.3" y2="261.4" stroke="#222" stroke-width="1.15"/>
<line x1="41.0" y1="260.5" x2="41.0" y2="443.3" stroke="#222" stroke-width="1.4"/>
<line x1="37.8" y1="264.95" x2="41.0" y2="264.95" stroke="#222" stroke-width="1.1"/>
<text x="0" y="0" font-size="6.6" text-anchor="end" fill="#2e2e2e" stroke="#2e2e2e" stroke-width="0.12" transform="translate(31.9,266.93) scale(1,0.84)">1042</text>
<line x1="37.8" y1="278.17" x2="41.0" y2="278.17" stroke="#222" stroke-width="1.1"/>
<text x="0" y="0" font-size="6.6" text-anchor="end" fill="#2e2e2e" stroke="#2e2e2e" stroke-width="0.12" transform="translate(31.9,280.15) scale(1,0.84)">1038</text>
<line x1="37.8" y1="291.39" x2="41.0" y2="291.39" stroke="#222" stroke-width="1.1"/>
<text x="0" y="0" font-size="6.6" text-anchor="end" fill="#2e2e2e" stroke="#2e2e2e" stroke-width="0.12" transform="translate(31.9,293.37) scale(1,0.84)">1063</text>
<line x1="37.8" y1="304.61" x2="41.0" y2="304.61" stroke="#222" stroke-width="1.1"/>
<text x="0" y="0" font-size="6.6" text-anchor="end" fill="#2e2e2e" stroke="#2e2e2e" stroke-width="0.12" transform="translate(31.9,306.59) scale(1,0.84)">1078</text>
<line x1="37.8" y1="317.83" x2="41.0" y2="317.83" stroke="#222" stroke-width="1.1"/>
<text x="0" y="0" font-size="6.6" text-anchor="end" fill="#2e2e2e" stroke="#2e2e2e" stroke-width="0.12" transform="translate(31.9,319.81) scale(1,0.84)">1084</text>
<line x1="37.8" y1="331.05" x2="41.0" y2="331.05" stroke="#222" stroke-width="1.1"/>
<text x="0" y="0" font-size="6.6" text-anchor="end" fill="#2e2e2e" stroke="#2e2e2e" stroke-width="0.12" transform="translate(31.9,333.03) scale(1,0.84)">1106</text>
<text x="32.6" y="333.35" font-size="5.0" text-anchor="start" font-weight="normal" font-style="normal" fill="#2e2e2e">*</text>
<line x1="37.8" y1="344.27" x2="41.0" y2="344.27" stroke="#222" stroke-width="1.1"/>
<text x="0" y="0" font-size="6.6" text-anchor="end" fill="#2e2e2e" stroke="#2e2e2e" stroke-width="0.12" transform="translate(31.9,346.25) scale(1,0.84)">1127</text>
<line x1="37.8" y1="357.49" x2="41.0" y2="357.49" stroke="#222" stroke-width="1.1"/>
<text x="0" y="0" font-size="6.6" text-anchor="end" fill="#2e2e2e" stroke="#2e2e2e" stroke-width="0.12" transform="translate(31.9,359.47) scale(1,0.84)">1174</text>
<line x1="37.8" y1="370.71" x2="41.0" y2="370.71" stroke="#222" stroke-width="1.1"/>
<text x="0" y="0" font-size="6.6" text-anchor="end" fill="#2e2e2e" stroke="#2e2e2e" stroke-width="0.12" transform="translate(31.9,372.69) scale(1,0.84)">1182</text>
<text x="32.6" y="373.01" font-size="5.0" text-anchor="start" font-weight="normal" font-style="normal" fill="#2e2e2e">*</text>
<line x1="37.8" y1="383.93" x2="41.0" y2="383.93" stroke="#222" stroke-width="1.1"/>
<text x="0" y="0" font-size="6.6" text-anchor="end" fill="#2e2e2e" stroke="#2e2e2e" stroke-width="0.12" transform="translate(31.9,385.91) scale(1,0.84)">1199</text>
<line x1="37.8" y1="397.15" x2="41.0" y2="397.15" stroke="#222" stroke-width="1.1"/>
<text x="0" y="0" font-size="6.6" text-anchor="end" fill="#2e2e2e" stroke="#2e2e2e" stroke-width="0.12" transform="translate(31.9,399.13) scale(1,0.84)">1201</text>
<line x1="37.8" y1="410.37" x2="41.0" y2="410.37" stroke="#222" stroke-width="1.1"/>
<text x="0" y="0" font-size="6.6" text-anchor="end" fill="#2e2e2e" stroke="#2e2e2e" stroke-width="0.12" transform="translate(31.9,412.35) scale(1,0.84)">1293</text>
<line x1="37.8" y1="423.59000000000003" x2="41.0" y2="423.59000000000003" stroke="#222" stroke-width="1.1"/>
<text x="0" y="0" font-size="6.6" text-anchor="end" fill="#2e2e2e" stroke="#2e2e2e" stroke-width="0.12" transform="translate(31.9,425.57) scale(1,0.84)">1303</text>
<line x1="37.8" y1="436.81" x2="41.0" y2="436.81" stroke="#222" stroke-width="1.1"/>
<text x="0" y="0" font-size="6.6" text-anchor="end" fill="#2e2e2e" stroke="#2e2e2e" stroke-width="0.12" transform="translate(31.9,438.79) scale(1,0.84)">1315</text>
<text x="32.6" y="439.11" font-size="5.0" text-anchor="start" font-weight="normal" font-style="normal" fill="#2e2e2e">*</text>
<text x="0" y="0" font-size="8.2" font-weight="bold" text-anchor="middle" fill="#1e1e1e" style="stroke:#1e1e1e;stroke-width:0.24px" transform="translate(13.94,340.9) rotate(-90) scale(0.685,1)">Patient ID</text>
<line x1="41.5" y1="264.95" x2="404" y2="264.95" stroke="#bebebe" stroke-width="2.1"/>
<line x1="41.5" y1="264.95" x2="103" y2="264.95" stroke="#1d4b7b" stroke-width="2.1"/>
<line x1="394.5" y1="264.95" x2="402.5" y2="264.95" stroke="#3f2d62" stroke-width="1.05"/>
<path d="M401.9 263.8 L404.5 264.95 L401.9 266.09999999999997 Z" fill="#3f2d62"/>
<rect x="48.800000000000004" y="263.84999999999997" width="2.8" height="2.2" fill="#c42460" fill-opacity="0.55"/>
<path d="M48.2 262.65 L49.400000000000006 267.25 M49.400000000000006 262.65 L48.2 267.25" stroke="#a01a50" stroke-width="0.95"/>
<path d="M51.0 262.65 L52.2 267.25 M52.2 262.65 L51.0 267.25" stroke="#a01a50" stroke-width="0.95"/>
<ellipse cx="65.3" cy="264.95" rx="2.0" ry="1.5" fill="#3f9872" stroke="#2a6a50" stroke-width="0.5"/>
<ellipse cx="101.5" cy="264.95" rx="2.0" ry="1.5" fill="#3f9872" stroke="#2a6a50" stroke-width="0.5"/>
<line x1="41.5" y1="278.17" x2="407" y2="278.17" stroke="#bebebe" stroke-width="2.1"/>
<line x1="41.5" y1="278.17" x2="98.8" y2="278.17" stroke="#1d4b7b" stroke-width="2.1"/>
<line x1="397.5" y1="278.17" x2="405.5" y2="278.17" stroke="#3f2d62" stroke-width="1.05"/>
<path d="M404.9 277.02000000000004 L407.5 278.17 L404.9 279.32 Z" fill="#3f2d62"/>
<rect x="50.2" y="277.07" width="2.8" height="2.2" fill="#c42460" fill-opacity="0.55"/>
<path d="M49.6 275.87 L50.800000000000004 280.47 M50.800000000000004 275.87 L49.6 280.47" stroke="#a01a50" stroke-width="0.95"/>
<path d="M52.4 275.87 L53.6 280.47 M53.6 275.87 L52.4 280.47" stroke="#a01a50" stroke-width="0.95"/>
<ellipse cx="69.6" cy="278.17" rx="2.0" ry="1.5" fill="#3f9872" stroke="#2a6a50" stroke-width="0.5"/>
<ellipse cx="94.5" cy="278.17" rx="2.0" ry="1.5" fill="#3f9872" stroke="#2a6a50" stroke-width="0.5"/>
<path d="M201.8 279.67 L204 276.17 L206.2 279.67 Z" fill="#3a9468"/>
<line x1="41.5" y1="291.39" x2="154" y2="291.39" stroke="#bebebe" stroke-width="2.1"/>
<line x1="41.5" y1="291.39" x2="96.8" y2="291.39" stroke="#1d4b7b" stroke-width="2.1"/>
<rect x="52.7" y="290.28999999999996" width="2.8" height="2.2" fill="#c42460" fill-opacity="0.55"/>
<path d="M52.1 289.09 L53.300000000000004 293.69 M53.300000000000004 289.09 L52.1 293.69" stroke="#a01a50" stroke-width="0.95"/>
<path d="M54.9 289.09 L56.1 293.69 M56.1 289.09 L54.9 293.69" stroke="#a01a50" stroke-width="0.95"/>
<ellipse cx="68.8" cy="291.39" rx="2.0" ry="1.5" fill="#3f9872" stroke="#2a6a50" stroke-width="0.5"/>
<ellipse cx="92.8" cy="291.39" rx="2.0" ry="1.5" fill="#3f9872" stroke="#2a6a50" stroke-width="0.5"/>
<path d="M138.6 289.19 L141.0 291.39 L138.6 293.59 L136.2 291.39 Z" fill="#3e1a4c" stroke="#2a1436" stroke-width="0.6"/>
<path d="M135.4 280.19 L135.4 286.59" stroke="#111" stroke-width="0.95"/><path d="M133.5 285.89 L137.3 285.89 L135.4 288.78999999999996 Z" fill="#111"/>
<path d="M159.2 287.39 L159.2 294.39 M157.0 289.99 L161.39999999999998 289.99" stroke="#26343c" stroke-width="1.2"/>
<line x1="41.5" y1="304.61" x2="390" y2="304.61" stroke="#bebebe" stroke-width="2.1"/>
<line x1="41.5" y1="304.61" x2="104" y2="304.61" stroke="#1d4b7b" stroke-width="2.1"/>
<line x1="381" y1="304.61" x2="389" y2="304.61" stroke="#3f2d62" stroke-width="1.05"/>
<path d="M388.4 303.46000000000004 L391 304.61 L388.4 305.76 Z" fill="#3f2d62"/>
<rect x="49.4" y="303.51" width="2.8" height="2.2" fill="#c42460" fill-opacity="0.55"/>
<path d="M48.8 302.31 L50.0 306.91 M50.0 302.31 L48.8 306.91" stroke="#a01a50" stroke-width="0.95"/>
<path d="M51.599999999999994 302.31 L52.8 306.91 M52.8 302.31 L51.599999999999994 306.91" stroke="#a01a50" stroke-width="0.95"/>
<ellipse cx="69.2" cy="304.61" rx="2.0" ry="1.5" fill="#3f9872" stroke="#2a6a50" stroke-width="0.5"/>
<ellipse cx="102.3" cy="304.61" rx="2.0" ry="1.5" fill="#3f9872" stroke="#2a6a50" stroke-width="0.5"/>
<line x1="41.5" y1="317.83" x2="385" y2="317.83" stroke="#bebebe" stroke-width="2.1"/>
<line x1="41.5" y1="317.83" x2="104" y2="317.83" stroke="#1d4b7b" stroke-width="2.1"/>
<line x1="375.8" y1="317.83" x2="383.8" y2="317.83" stroke="#3f2d62" stroke-width="1.05"/>
<path d="M383.2 316.68 L385.8 317.83 L383.2 318.97999999999996 Z" fill="#3f2d62"/>
<rect x="45.0" y="316.72999999999996" width="2.8" height="2.2" fill="#c42460" fill-opacity="0.55"/>
<path d="M44.4 315.53 L45.6 320.13 M45.6 315.53 L44.4 320.13" stroke="#a01a50" stroke-width="0.95"/>
<path d="M47.199999999999996 315.53 L48.4 320.13 M48.4 315.53 L47.199999999999996 320.13" stroke="#a01a50" stroke-width="0.95"/>
<ellipse cx="65.2" cy="317.83" rx="2.0" ry="1.5" fill="#3f9872" stroke="#2a6a50" stroke-width="0.5"/>
<ellipse cx="101.5" cy="317.83" rx="2.0" ry="1.5" fill="#3f9872" stroke="#2a6a50" stroke-width="0.5"/>
<line x1="41.5" y1="331.05" x2="375" y2="331.05" stroke="#bebebe" stroke-width="2.1"/>
<line x1="41.5" y1="331.05" x2="110.8" y2="331.05" stroke="#1d4b7b" stroke-width="2.1"/>
<line x1="365.2" y1="331.05" x2="373.2" y2="331.05" stroke="#3f2d62" stroke-width="1.05"/>
<path d="M372.59999999999997 329.90000000000003 L375.2 331.05 L372.59999999999997 332.2 Z" fill="#3f2d62"/>
<ellipse cx="70.5" cy="331.05" rx="2.0" ry="1.5" fill="#3f9872" stroke="#2a6a50" stroke-width="0.5"/>
<ellipse cx="106.4" cy="331.05" rx="2.0" ry="1.5" fill="#3f9872" stroke="#2a6a50" stroke-width="0.5"/>
<path d="M180.10000000000002 332.55 L182.3 329.05 L184.5 332.55 Z" fill="#3a9468"/>
<line x1="41.5" y1="344.27" x2="361" y2="344.27" stroke="#bebebe" stroke-width="2.1"/>
<line x1="41.5" y1="344.27" x2="94" y2="344.27" stroke="#1d4b7b" stroke-width="2.1"/>
<line x1="351.4" y1="344.27" x2="359.4" y2="344.27" stroke="#3f2d62" stroke-width="1.05"/>
<path d="M358.79999999999995 343.12 L361.4 344.27 L358.79999999999995 345.41999999999996 Z" fill="#3f2d62"/>
<rect x="51.7" y="343.16999999999996" width="2.8" height="2.2" fill="#c42460" fill-opacity="0.55"/>
<path d="M51.1 341.96999999999997 L52.300000000000004 346.57 M52.300000000000004 341.96999999999997 L51.1 346.57" stroke="#a01a50" stroke-width="0.95"/>
<path d="M53.9 341.96999999999997 L55.1 346.57 M55.1 341.96999999999997 L53.9 346.57" stroke="#a01a50" stroke-width="0.95"/>
<ellipse cx="65.4" cy="344.27" rx="2.2" ry="1.7" fill="#ecd672"/>
<ellipse cx="94.2" cy="344.27" rx="2.2" ry="1.7" fill="#ecd672"/>
<path d="M111.7 345.77 L113.9 342.27 L116.10000000000001 345.77 Z" fill="#3a9468"/>
<line x1="41.5" y1="357.49" x2="334" y2="357.49" stroke="#bebebe" stroke-width="2.1"/>
<line x1="41.5" y1="357.49" x2="101.5" y2="357.49" stroke="#1d4b7b" stroke-width="2.1"/>
<line x1="239.5" y1="357.49" x2="324.5" y2="357.49" stroke="#e39b33" stroke-width="1.8"/>
<line x1="324.6" y1="357.49" x2="332.6" y2="357.49" stroke="#3f2d62" stroke-width="1.05"/>
<path d="M332.0 356.34000000000003 L334.6 357.49 L332.0 358.64 Z" fill="#3f2d62"/>
<rect x="57.800000000000004" y="356.39" width="2.8" height="2.2" fill="#c42460" fill-opacity="0.55"/>
<path d="M57.2 355.19 L58.400000000000006 359.79 M58.400000000000006 355.19 L57.2 359.79" stroke="#a01a50" stroke-width="0.95"/>
<path d="M60.0 355.19 L61.2 359.79 M61.2 355.19 L60.0 359.79" stroke="#a01a50" stroke-width="0.95"/>
<ellipse cx="66.9" cy="357.49" rx="2.2" ry="1.7" fill="#ecd672"/>
<ellipse cx="99.5" cy="357.49" rx="2.0" ry="1.5" fill="#3f9872" stroke="#2a6a50" stroke-width="0.5"/>
<path d="M137.20000000000002 358.99 L139.4 355.49 L141.6 358.99 Z" fill="#3a9468"/>
<path d="M235.4 355.29 L237.8 357.49 L235.4 359.69 L233.0 357.49 Z" fill="#3e1a4c" stroke="#2a1436" stroke-width="0.6"/>
<line x1="41.5" y1="370.71" x2="333" y2="370.71" stroke="#bebebe" stroke-width="2.1"/>
<line x1="41.5" y1="370.71" x2="100" y2="370.71" stroke="#1d4b7b" stroke-width="2.1"/>
<line x1="323.7" y1="370.71" x2="331.7" y2="370.71" stroke="#3f2d62" stroke-width="1.05"/>
<path d="M331.09999999999997 369.56 L333.7 370.71 L331.09999999999997 371.85999999999996 Z" fill="#3f2d62"/>
<ellipse cx="70" cy="370.71" rx="2.2" ry="1.7" fill="#ecd672"/>
<ellipse cx="96.6" cy="370.71" rx="2.2" ry="1.7" fill="#ecd672"/>
<ellipse cx="145.3" cy="370.71" rx="2.2" ry="1.7" fill="#ecd672"/>
<path d="M174.70000000000002 372.21 L176.9 368.71 L179.1 372.21 Z" fill="#3a9468"/>
<line x1="41.5" y1="383.93" x2="106.8" y2="383.93" stroke="#1d4b7b" stroke-width="2.1"/>
<line x1="106.8" y1="383.93" x2="150.4" y2="383.93" stroke="#e39b33" stroke-width="2.1"/>
<line x1="150.4" y1="383.93" x2="258.4" y2="383.93" stroke="#9e1c44" stroke-width="2.1"/>
<rect x="49.6" y="382.83" width="2.8" height="2.2" fill="#8a3a78" fill-opacity="0.55"/>
<path d="M49.0 381.63 L50.2 386.23 M50.2 381.63 L49.0 386.23" stroke="#5e2458" stroke-width="0.95"/>
<path d="M51.8 381.63 L53.0 386.23 M53.0 381.63 L51.8 386.23" stroke="#5e2458" stroke-width="0.95"/>
<ellipse cx="65.4" cy="383.93" rx="2.2" ry="1.7" fill="#ecd672"/>
<path d="M98.5 381.73 L100.9 383.93 L98.5 386.13 L96.1 383.93 Z" fill="#3e1a4c" stroke="#2a1436" stroke-width="0.6"/>
<ellipse cx="127.9" cy="383.93" rx="2.2" ry="1.7" fill="#f3cc73"/>
<path d="M150.4 381.73 L152.8 383.93 L150.4 386.13 L148.0 383.93 Z" fill="#3e1a4c" stroke="#2a1436" stroke-width="0.6"/>
<path d="M148.5 372.73 L148.5 379.13" stroke="#111" stroke-width="0.95"/><path d="M146.6 378.43 L150.4 378.43 L148.5 381.33 Z" fill="#111"/>
<ellipse cx="166.9" cy="383.93" rx="2.3" ry="1.8" fill="#3fa0c8" stroke="#2c7096" stroke-width="0.6"/>
<path d="M263.6 379.93 L263.6 386.93 M261.40000000000003 382.53000000000003 L265.8 382.53000000000003" stroke="#26343c" stroke-width="1.2"/>
<line x1="41.5" y1="397.15" x2="314" y2="397.15" stroke="#bebebe" stroke-width="2.1"/>
<line x1="41.5" y1="397.15" x2="80.3" y2="397.15" stroke="#1d4b7b" stroke-width="2.1"/>
<line x1="80.3" y1="397.15" x2="178.8" y2="397.15" stroke="#e39b33" stroke-width="2.1"/>
<line x1="304.6" y1="397.15" x2="312.6" y2="397.15" stroke="#3f2d62" stroke-width="1.05"/>
<path d="M312.0 396.0 L314.6 397.15 L312.0 398.29999999999995 Z" fill="#3f2d62"/>
<ellipse cx="62.8" cy="397.15" rx="2.3" ry="1.8" fill="#3fa0c8" stroke="#2c7096" stroke-width="0.6"/>
<path d="M70 394.95 L72.4 397.15 L70 399.34999999999997 L67.6 397.15 Z" fill="#3e1a4c" stroke="#2a1436" stroke-width="0.6"/>
<path d="M86.7 395.34999999999997 L90.3 398.95 M90.3 395.34999999999997 L86.7 398.95" stroke="#9a4a2a" stroke-width="1.1"/>
<path d="M129.10000000000002 398.65 L131.3 395.15 L133.5 398.65 Z" fill="#3a9468"/>
<path d="M169.5 398.65 L171.7 395.15 L173.89999999999998 398.65 Z" fill="#3a9468"/>
<path d="M235.5 398.65 L237.7 395.15 L239.89999999999998 398.65 Z" fill="#3a9468"/>
<line x1="41.5" y1="410.37" x2="270" y2="410.37" stroke="#bebebe" stroke-width="2.1"/>
<line x1="41.5" y1="410.37" x2="86.2" y2="410.37" stroke="#1d4b7b" stroke-width="2.1"/>
<line x1="261.6" y1="410.37" x2="269.6" y2="410.37" stroke="#3f2d62" stroke-width="1.05"/>
<path d="M269.0 409.22 L271.6 410.37 L269.0 411.52 Z" fill="#3f2d62"/>
<rect x="46.9" y="409.27" width="2.8" height="2.2" fill="#c42460" fill-opacity="0.55"/>
<path d="M46.3 408.07 L47.5 412.67 M47.5 408.07 L46.3 412.67" stroke="#a01a50" stroke-width="0.95"/>
<path d="M49.099999999999994 408.07 L50.3 412.67 M50.3 408.07 L49.099999999999994 412.67" stroke="#a01a50" stroke-width="0.95"/>
<ellipse cx="65.5" cy="410.37" rx="2.0" ry="1.5" fill="#3f9872" stroke="#2a6a50" stroke-width="0.5"/>
<ellipse cx="82.2" cy="410.37" rx="2.0" ry="1.5" fill="#3f9872" stroke="#2a6a50" stroke-width="0.5"/>
<line x1="41.5" y1="423.59000000000003" x2="70" y2="423.59000000000003" stroke="#1d4b7b" stroke-width="2.1"/>
<line x1="70" y1="423.59000000000003" x2="100" y2="423.59000000000003" stroke="#e39b33" stroke-width="2.1"/>
<line x1="100" y1="423.59000000000003" x2="163" y2="423.59000000000003" stroke="#9e1c44" stroke-width="2.1"/>
<path d="M65.5 421.39000000000004 L67.9 423.59000000000003 L65.5 425.79 L63.1 423.59000000000003 Z" fill="#3e1a4c" stroke="#2a1436" stroke-width="0.6"/>
<path d="M100 421.39000000000004 L102.4 423.59000000000003 L100 425.79 L97.6 423.59000000000003 Z" fill="#3e1a4c" stroke="#2a1436" stroke-width="0.6"/>
<path d="M117.5 421.39000000000004 L119.9 423.59000000000003 L117.5 425.79 L115.1 423.59000000000003 Z" fill="#3e1a4c" stroke="#2a1436" stroke-width="0.6"/>
<path d="M169.4 419.59000000000003 L169.4 426.59000000000003 M167.20000000000002 422.19000000000005 L171.6 422.19000000000005" stroke="#26343c" stroke-width="1.2"/>
<line x1="41.5" y1="436.81" x2="252" y2="436.81" stroke="#bebebe" stroke-width="2.1"/>
<line x1="41.5" y1="436.81" x2="105" y2="436.81" stroke="#1d4b7b" stroke-width="2.1"/>
<line x1="243.6" y1="436.81" x2="251.6" y2="436.81" stroke="#3f2d62" stroke-width="1.05"/>
<path d="M251.0 435.66 L253.6 436.81 L251.0 437.96 Z" fill="#3f2d62"/>
<ellipse cx="65.2" cy="436.81" rx="2.0" ry="1.5" fill="#3f9872" stroke="#2a6a50" stroke-width="0.5"/>
<ellipse cx="103.7" cy="436.81" rx="2.0" ry="1.5" fill="#3f9872" stroke="#2a6a50" stroke-width="0.5"/>
<text x="346.2" y="390.2" font-size="6.2" text-anchor="start" font-weight="normal" font-style="normal" fill="#2e2e2e">Treatment course</text>
<rect x="347.0" y="396.1" width="9.3" height="3.0" fill="#1d4a7a"/>
<text x="359.6" y="399.8" font-size="6.2" text-anchor="start" font-weight="normal" font-style="normal" fill="#2e2e2e">1<tspan font-size="4" dy="-2.2">st</tspan><tspan dy="2.2">-line treatment</tspan></text>
<rect x="347.0" y="407.7" width="9.3" height="3.0" fill="#e8951f"/>
<text x="359.6" y="411.4" font-size="6.2" text-anchor="start" font-weight="normal" font-style="normal" fill="#2e2e2e">2<tspan font-size="4" dy="-2.2">nd</tspan><tspan dy="2.2">-line treatment</tspan></text>
<rect x="347.0" y="419.0" width="9.3" height="3.0" fill="#ad1840"/>
<text x="359.6" y="422.7" font-size="6.2" text-anchor="start" font-weight="normal" font-style="normal" fill="#2e2e2e">3<tspan font-size="4" dy="-2.2">rd</tspan><tspan dy="2.2">-line treatment and beyond</tspan></text>
<rect x="347.0" y="430.3" width="9.3" height="3.0" fill="#c4c4c4"/>
<text x="359.6" y="434.0" font-size="6.2" text-anchor="start" font-weight="normal" font-style="normal" fill="#2e2e2e">Follow-up</text>
</svg>
<div class="frame"></div>
</body></html>
